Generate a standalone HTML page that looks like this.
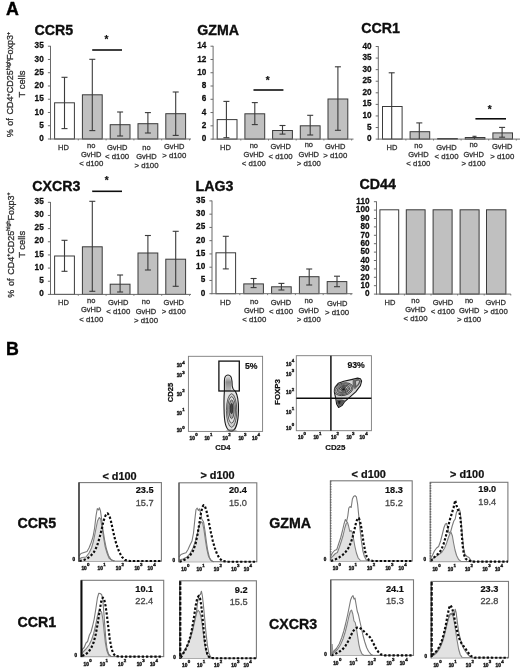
<!DOCTYPE html>
<html lang="en"><head><meta charset="utf-8"><title>Figure</title>
<style>html,body{margin:0;padding:0;background:#fff}svg{display:block}text{font-family:"Liberation Sans", sans-serif}</style></head><body>
<svg width="520" height="671" viewBox="0 0 520 671">
<rect x="0" y="0" width="520" height="671" fill="#ffffff"/>
<filter id="soft" x="0" y="0" width="520" height="671" filterUnits="userSpaceOnUse"><feGaussianBlur stdDeviation="0.38"/></filter>
<g filter="url(#soft)">
<text x="6.00" y="15.00" font-size="17.8" font-weight="bold" fill="#000" text-anchor="start" stroke="#000" stroke-width="0.39">A</text>
<text x="6.00" y="354.70" font-size="17.8" font-weight="bold" fill="#000" text-anchor="start" stroke="#000" stroke-width="0.39">B</text>
<text x="34.50" y="34.60" font-size="14.2" font-weight="bold" fill="#0a0a0a" text-anchor="start" stroke="#0a0a0a" stroke-width="0.31">CCR5</text>
<rect x="54.60" y="102.80" width="19.80" height="36.20" fill="#ffffff" stroke="#3a3a3a" stroke-width="1"/>
<rect x="82.40" y="94.80" width="19.80" height="44.20" fill="#c0c0c0" stroke="#3a3a3a" stroke-width="1"/>
<rect x="110.20" y="124.70" width="19.80" height="14.30" fill="#c0c0c0" stroke="#3a3a3a" stroke-width="1"/>
<rect x="138.00" y="123.70" width="19.80" height="15.30" fill="#c0c0c0" stroke="#3a3a3a" stroke-width="1"/>
<rect x="165.80" y="113.70" width="19.80" height="25.30" fill="#c0c0c0" stroke="#3a3a3a" stroke-width="1"/>
<line x1="50.50" y1="45.90" x2="50.50" y2="139.50" stroke="#6a6a6a" stroke-width="1"/>
<line x1="50.00" y1="139.00" x2="191.00" y2="139.00" stroke="#6a6a6a" stroke-width="1"/>
<line x1="47.90" y1="139.00" x2="50.50" y2="139.00" stroke="#6a6a6a" stroke-width="1"/>
<text transform="translate(43.70,141.10) scale(1,1.19)" font-size="8.2" font-weight="bold" fill="#0a0a0a" stroke="#0a0a0a" stroke-width=".22" text-anchor="end">0</text>
<line x1="47.90" y1="125.74" x2="50.50" y2="125.74" stroke="#6a6a6a" stroke-width="1"/>
<text transform="translate(43.70,127.84) scale(1,1.19)" font-size="8.2" font-weight="bold" fill="#0a0a0a" stroke="#0a0a0a" stroke-width=".22" text-anchor="end">5</text>
<line x1="47.90" y1="112.49" x2="50.50" y2="112.49" stroke="#6a6a6a" stroke-width="1"/>
<text transform="translate(43.70,114.59) scale(1,1.19)" font-size="8.2" font-weight="bold" fill="#0a0a0a" stroke="#0a0a0a" stroke-width=".22" text-anchor="end">10</text>
<line x1="47.90" y1="99.23" x2="50.50" y2="99.23" stroke="#6a6a6a" stroke-width="1"/>
<text transform="translate(43.70,101.33) scale(1,1.19)" font-size="8.2" font-weight="bold" fill="#0a0a0a" stroke="#0a0a0a" stroke-width=".22" text-anchor="end">15</text>
<line x1="47.90" y1="85.97" x2="50.50" y2="85.97" stroke="#6a6a6a" stroke-width="1"/>
<text transform="translate(43.70,88.07) scale(1,1.19)" font-size="8.2" font-weight="bold" fill="#0a0a0a" stroke="#0a0a0a" stroke-width=".22" text-anchor="end">20</text>
<line x1="47.90" y1="72.71" x2="50.50" y2="72.71" stroke="#6a6a6a" stroke-width="1"/>
<text transform="translate(43.70,74.81) scale(1,1.19)" font-size="8.2" font-weight="bold" fill="#0a0a0a" stroke="#0a0a0a" stroke-width=".22" text-anchor="end">25</text>
<line x1="47.90" y1="59.46" x2="50.50" y2="59.46" stroke="#6a6a6a" stroke-width="1"/>
<text transform="translate(43.70,61.56) scale(1,1.19)" font-size="8.2" font-weight="bold" fill="#0a0a0a" stroke="#0a0a0a" stroke-width=".22" text-anchor="end">30</text>
<line x1="47.90" y1="46.20" x2="50.50" y2="46.20" stroke="#6a6a6a" stroke-width="1"/>
<text transform="translate(43.70,48.30) scale(1,1.19)" font-size="8.2" font-weight="bold" fill="#0a0a0a" stroke="#0a0a0a" stroke-width=".22" text-anchor="end">35</text>
<line x1="78.30" y1="139.00" x2="78.30" y2="140.40" stroke="#6a6a6a" stroke-width="0.9"/>
<line x1="106.10" y1="139.00" x2="106.10" y2="140.40" stroke="#6a6a6a" stroke-width="0.9"/>
<line x1="133.90" y1="139.00" x2="133.90" y2="140.40" stroke="#6a6a6a" stroke-width="0.9"/>
<line x1="161.70" y1="139.00" x2="161.70" y2="140.40" stroke="#6a6a6a" stroke-width="0.9"/>
<line x1="189.50" y1="139.00" x2="189.50" y2="140.40" stroke="#6a6a6a" stroke-width="0.9"/>
<line x1="64.50" y1="77.30" x2="64.50" y2="128.60" stroke="#3a3a3a" stroke-width="1.1"/>
<line x1="61.50" y1="77.30" x2="67.50" y2="77.30" stroke="#3a3a3a" stroke-width="1.1"/>
<line x1="61.50" y1="128.60" x2="67.50" y2="128.60" stroke="#3a3a3a" stroke-width="1.1"/>
<line x1="92.30" y1="59.30" x2="92.30" y2="130.60" stroke="#3a3a3a" stroke-width="1.1"/>
<line x1="89.30" y1="59.30" x2="95.30" y2="59.30" stroke="#3a3a3a" stroke-width="1.1"/>
<line x1="89.30" y1="130.60" x2="95.30" y2="130.60" stroke="#3a3a3a" stroke-width="1.1"/>
<line x1="120.10" y1="112.00" x2="120.10" y2="136.00" stroke="#3a3a3a" stroke-width="1.1"/>
<line x1="117.10" y1="112.00" x2="123.10" y2="112.00" stroke="#3a3a3a" stroke-width="1.1"/>
<line x1="117.10" y1="136.00" x2="123.10" y2="136.00" stroke="#3a3a3a" stroke-width="1.1"/>
<line x1="147.90" y1="112.60" x2="147.90" y2="133.00" stroke="#3a3a3a" stroke-width="1.1"/>
<line x1="144.90" y1="112.60" x2="150.90" y2="112.60" stroke="#3a3a3a" stroke-width="1.1"/>
<line x1="144.90" y1="133.00" x2="150.90" y2="133.00" stroke="#3a3a3a" stroke-width="1.1"/>
<line x1="175.70" y1="92.00" x2="175.70" y2="135.40" stroke="#3a3a3a" stroke-width="1.1"/>
<line x1="172.70" y1="92.00" x2="178.70" y2="92.00" stroke="#3a3a3a" stroke-width="1.1"/>
<line x1="172.70" y1="135.40" x2="178.70" y2="135.40" stroke="#3a3a3a" stroke-width="1.1"/>
<text x="63.50" y="150.00" font-size="7.5" fill="#2e2e2e" text-anchor="middle" stroke="#2e2e2e" stroke-width="0.26">HD</text>
<text x="91.20" y="147.70" font-size="7.5" fill="#2e2e2e" text-anchor="middle" stroke="#2e2e2e" stroke-width="0.26">no</text>
<text x="91.20" y="157.00" font-size="7.5" fill="#2e2e2e" text-anchor="middle" stroke="#2e2e2e" stroke-width="0.26">GvHD</text>
<text x="91.20" y="166.30" font-size="7.8" fill="#2e2e2e" text-anchor="middle" stroke="#2e2e2e" stroke-width="0.27">&lt; d100</text>
<text x="117.10" y="150.00" font-size="7.5" fill="#2e2e2e" text-anchor="middle" stroke="#2e2e2e" stroke-width="0.26">GvHD</text>
<text x="117.10" y="159.30" font-size="7.8" fill="#2e2e2e" text-anchor="middle" stroke="#2e2e2e" stroke-width="0.27">&lt; d100</text>
<text x="146.50" y="149.80" font-size="7.5" fill="#2e2e2e" text-anchor="middle" stroke="#2e2e2e" stroke-width="0.26">no</text>
<text x="146.50" y="159.10" font-size="7.5" fill="#2e2e2e" text-anchor="middle" stroke="#2e2e2e" stroke-width="0.26">GvHD</text>
<text x="146.50" y="168.40" font-size="7.8" fill="#2e2e2e" text-anchor="middle" stroke="#2e2e2e" stroke-width="0.27">&gt; d100</text>
<text x="174.20" y="148.80" font-size="7.5" fill="#2e2e2e" text-anchor="middle" stroke="#2e2e2e" stroke-width="0.26">GvHD</text>
<text x="174.20" y="158.10" font-size="7.8" fill="#2e2e2e" text-anchor="middle" stroke="#2e2e2e" stroke-width="0.27">&gt; d100</text>
<line x1="92.20" y1="50.00" x2="122.00" y2="50.00" stroke="#111" stroke-width="1.6"/>
<text x="106.40" y="43.40" font-size="10" font-weight="bold" fill="#111" text-anchor="middle" stroke="#111" stroke-width="0.22">*</text>
<text transform="translate(13.40,84.60) rotate(-90)" font-size="9" word-spacing="1.2" fill="#2e2e2e" stroke="#2e2e2e" stroke-width=".3" text-anchor="middle">% of CD4<tspan font-size="5.4" dy="-3.4">+</tspan><tspan dy="3.4">CD25</tspan><tspan font-size="5.4" dy="-3.4">high</tspan><tspan dy="3.4">Foxp3</tspan><tspan font-size="5.4" dy="-3.4">+</tspan></text>
<text transform="translate(24.90,84.00) rotate(-90)" font-size="9.4" fill="#2e2e2e" stroke="#2e2e2e" stroke-width=".3" text-anchor="middle">T cells</text>
<text x="197.20" y="34.60" font-size="14.2" font-weight="bold" fill="#0a0a0a" text-anchor="start" stroke="#0a0a0a" stroke-width="0.31">GZMA</text>
<rect x="217.20" y="119.60" width="19.80" height="19.50" fill="#ffffff" stroke="#3a3a3a" stroke-width="1"/>
<rect x="244.90" y="113.80" width="19.80" height="25.30" fill="#c0c0c0" stroke="#3a3a3a" stroke-width="1"/>
<rect x="272.60" y="130.50" width="19.80" height="8.60" fill="#c0c0c0" stroke="#3a3a3a" stroke-width="1"/>
<rect x="300.30" y="125.80" width="19.80" height="13.30" fill="#c0c0c0" stroke="#3a3a3a" stroke-width="1"/>
<rect x="328.00" y="99.00" width="19.80" height="40.10" fill="#c0c0c0" stroke="#3a3a3a" stroke-width="1"/>
<line x1="213.10" y1="45.90" x2="213.10" y2="139.60" stroke="#6a6a6a" stroke-width="1"/>
<line x1="212.60" y1="139.10" x2="353.50" y2="139.10" stroke="#6a6a6a" stroke-width="1"/>
<line x1="210.50" y1="139.10" x2="213.10" y2="139.10" stroke="#6a6a6a" stroke-width="1"/>
<text transform="translate(206.30,141.20) scale(1,1.19)" font-size="8.2" font-weight="bold" fill="#0a0a0a" stroke="#0a0a0a" stroke-width=".22" text-anchor="end">0</text>
<line x1="210.50" y1="125.83" x2="213.10" y2="125.83" stroke="#6a6a6a" stroke-width="1"/>
<text transform="translate(206.30,127.93) scale(1,1.19)" font-size="8.2" font-weight="bold" fill="#0a0a0a" stroke="#0a0a0a" stroke-width=".22" text-anchor="end">2</text>
<line x1="210.50" y1="112.56" x2="213.10" y2="112.56" stroke="#6a6a6a" stroke-width="1"/>
<text transform="translate(206.30,114.66) scale(1,1.19)" font-size="8.2" font-weight="bold" fill="#0a0a0a" stroke="#0a0a0a" stroke-width=".22" text-anchor="end">4</text>
<line x1="210.50" y1="99.29" x2="213.10" y2="99.29" stroke="#6a6a6a" stroke-width="1"/>
<text transform="translate(206.30,101.39) scale(1,1.19)" font-size="8.2" font-weight="bold" fill="#0a0a0a" stroke="#0a0a0a" stroke-width=".22" text-anchor="end">6</text>
<line x1="210.50" y1="86.01" x2="213.10" y2="86.01" stroke="#6a6a6a" stroke-width="1"/>
<text transform="translate(206.30,88.11) scale(1,1.19)" font-size="8.2" font-weight="bold" fill="#0a0a0a" stroke="#0a0a0a" stroke-width=".22" text-anchor="end">8</text>
<line x1="210.50" y1="72.74" x2="213.10" y2="72.74" stroke="#6a6a6a" stroke-width="1"/>
<text transform="translate(206.30,74.84) scale(1,1.19)" font-size="8.2" font-weight="bold" fill="#0a0a0a" stroke="#0a0a0a" stroke-width=".22" text-anchor="end">10</text>
<line x1="210.50" y1="59.47" x2="213.10" y2="59.47" stroke="#6a6a6a" stroke-width="1"/>
<text transform="translate(206.30,61.57) scale(1,1.19)" font-size="8.2" font-weight="bold" fill="#0a0a0a" stroke="#0a0a0a" stroke-width=".22" text-anchor="end">12</text>
<line x1="210.50" y1="46.20" x2="213.10" y2="46.20" stroke="#6a6a6a" stroke-width="1"/>
<text transform="translate(206.30,48.30) scale(1,1.19)" font-size="8.2" font-weight="bold" fill="#0a0a0a" stroke="#0a0a0a" stroke-width=".22" text-anchor="end">14</text>
<line x1="240.80" y1="139.10" x2="240.80" y2="140.50" stroke="#6a6a6a" stroke-width="0.9"/>
<line x1="268.50" y1="139.10" x2="268.50" y2="140.50" stroke="#6a6a6a" stroke-width="0.9"/>
<line x1="296.20" y1="139.10" x2="296.20" y2="140.50" stroke="#6a6a6a" stroke-width="0.9"/>
<line x1="323.90" y1="139.10" x2="323.90" y2="140.50" stroke="#6a6a6a" stroke-width="0.9"/>
<line x1="351.60" y1="139.10" x2="351.60" y2="140.50" stroke="#6a6a6a" stroke-width="0.9"/>
<line x1="226.40" y1="101.40" x2="226.40" y2="137.70" stroke="#3a3a3a" stroke-width="1.1"/>
<line x1="223.40" y1="101.40" x2="229.40" y2="101.40" stroke="#3a3a3a" stroke-width="1.1"/>
<line x1="223.40" y1="137.70" x2="229.40" y2="137.70" stroke="#3a3a3a" stroke-width="1.1"/>
<line x1="254.80" y1="102.60" x2="254.80" y2="124.60" stroke="#3a3a3a" stroke-width="1.1"/>
<line x1="251.80" y1="102.60" x2="257.80" y2="102.60" stroke="#3a3a3a" stroke-width="1.1"/>
<line x1="251.80" y1="124.60" x2="257.80" y2="124.60" stroke="#3a3a3a" stroke-width="1.1"/>
<line x1="282.50" y1="125.50" x2="282.50" y2="134.10" stroke="#3a3a3a" stroke-width="1.1"/>
<line x1="279.50" y1="125.50" x2="285.50" y2="125.50" stroke="#3a3a3a" stroke-width="1.1"/>
<line x1="279.50" y1="134.10" x2="285.50" y2="134.10" stroke="#3a3a3a" stroke-width="1.1"/>
<line x1="310.20" y1="115.30" x2="310.20" y2="135.00" stroke="#3a3a3a" stroke-width="1.1"/>
<line x1="307.20" y1="115.30" x2="313.20" y2="115.30" stroke="#3a3a3a" stroke-width="1.1"/>
<line x1="307.20" y1="135.00" x2="313.20" y2="135.00" stroke="#3a3a3a" stroke-width="1.1"/>
<line x1="337.90" y1="66.80" x2="337.90" y2="130.30" stroke="#3a3a3a" stroke-width="1.1"/>
<line x1="334.90" y1="66.80" x2="340.90" y2="66.80" stroke="#3a3a3a" stroke-width="1.1"/>
<line x1="334.90" y1="130.30" x2="340.90" y2="130.30" stroke="#3a3a3a" stroke-width="1.1"/>
<text x="225.40" y="150.00" font-size="7.5" fill="#2e2e2e" text-anchor="middle" stroke="#2e2e2e" stroke-width="0.26">HD</text>
<text x="253.80" y="147.70" font-size="7.5" fill="#2e2e2e" text-anchor="middle" stroke="#2e2e2e" stroke-width="0.26">no</text>
<text x="253.80" y="157.00" font-size="7.5" fill="#2e2e2e" text-anchor="middle" stroke="#2e2e2e" stroke-width="0.26">GvHD</text>
<text x="253.80" y="166.30" font-size="7.8" fill="#2e2e2e" text-anchor="middle" stroke="#2e2e2e" stroke-width="0.27">&lt; d100</text>
<text x="280.60" y="149.20" font-size="7.5" fill="#2e2e2e" text-anchor="middle" stroke="#2e2e2e" stroke-width="0.26">GvHD</text>
<text x="280.60" y="158.50" font-size="7.8" fill="#2e2e2e" text-anchor="middle" stroke="#2e2e2e" stroke-width="0.27">&lt; d100</text>
<text x="308.80" y="147.30" font-size="7.5" fill="#2e2e2e" text-anchor="middle" stroke="#2e2e2e" stroke-width="0.26">no</text>
<text x="308.80" y="156.60" font-size="7.5" fill="#2e2e2e" text-anchor="middle" stroke="#2e2e2e" stroke-width="0.26">GvHD</text>
<text x="308.80" y="165.90" font-size="7.8" fill="#2e2e2e" text-anchor="middle" stroke="#2e2e2e" stroke-width="0.27">&gt; d100</text>
<text x="335.20" y="148.80" font-size="7.5" fill="#2e2e2e" text-anchor="middle" stroke="#2e2e2e" stroke-width="0.26">GvHD</text>
<text x="335.20" y="158.10" font-size="7.8" fill="#2e2e2e" text-anchor="middle" stroke="#2e2e2e" stroke-width="0.27">&gt; d100</text>
<line x1="253.50" y1="90.00" x2="283.40" y2="90.00" stroke="#111" stroke-width="1.6"/>
<text x="267.80" y="84.00" font-size="10" font-weight="bold" fill="#111" text-anchor="middle" stroke="#111" stroke-width="0.22">*</text>
<text x="361.30" y="32.60" font-size="14.2" font-weight="bold" fill="#0a0a0a" text-anchor="start" stroke="#0a0a0a" stroke-width="0.31">CCR1</text>
<rect x="382.50" y="106.50" width="19.60" height="32.60" fill="#ffffff" stroke="#3a3a3a" stroke-width="1"/>
<rect x="410.10" y="131.70" width="19.60" height="7.40" fill="#c0c0c0" stroke="#3a3a3a" stroke-width="1"/>
<rect x="437.70" y="138.50" width="19.60" height="0.60" fill="#c0c0c0" stroke="#3a3a3a" stroke-width="1"/>
<rect x="465.30" y="137.50" width="19.60" height="1.60" fill="#c0c0c0" stroke="#3a3a3a" stroke-width="1"/>
<rect x="492.90" y="132.90" width="19.60" height="6.20" fill="#c0c0c0" stroke="#3a3a3a" stroke-width="1"/>
<line x1="378.30" y1="46.20" x2="378.30" y2="139.60" stroke="#6a6a6a" stroke-width="1"/>
<line x1="377.80" y1="139.10" x2="520.00" y2="139.10" stroke="#6a6a6a" stroke-width="1"/>
<line x1="375.70" y1="139.10" x2="378.30" y2="139.10" stroke="#6a6a6a" stroke-width="1"/>
<text transform="translate(371.50,141.20) scale(1,1.19)" font-size="8.2" font-weight="bold" fill="#0a0a0a" stroke="#0a0a0a" stroke-width=".22" text-anchor="end">0</text>
<line x1="375.70" y1="127.52" x2="378.30" y2="127.52" stroke="#6a6a6a" stroke-width="1"/>
<text transform="translate(371.50,129.62) scale(1,1.19)" font-size="8.2" font-weight="bold" fill="#0a0a0a" stroke="#0a0a0a" stroke-width=".22" text-anchor="end">5</text>
<line x1="375.70" y1="115.95" x2="378.30" y2="115.95" stroke="#6a6a6a" stroke-width="1"/>
<text transform="translate(371.50,118.05) scale(1,1.19)" font-size="8.2" font-weight="bold" fill="#0a0a0a" stroke="#0a0a0a" stroke-width=".22" text-anchor="end">10</text>
<line x1="375.70" y1="104.38" x2="378.30" y2="104.38" stroke="#6a6a6a" stroke-width="1"/>
<text transform="translate(371.50,106.47) scale(1,1.19)" font-size="8.2" font-weight="bold" fill="#0a0a0a" stroke="#0a0a0a" stroke-width=".22" text-anchor="end">15</text>
<line x1="375.70" y1="92.80" x2="378.30" y2="92.80" stroke="#6a6a6a" stroke-width="1"/>
<text transform="translate(371.50,94.90) scale(1,1.19)" font-size="8.2" font-weight="bold" fill="#0a0a0a" stroke="#0a0a0a" stroke-width=".22" text-anchor="end">20</text>
<line x1="375.70" y1="81.22" x2="378.30" y2="81.22" stroke="#6a6a6a" stroke-width="1"/>
<text transform="translate(371.50,83.32) scale(1,1.19)" font-size="8.2" font-weight="bold" fill="#0a0a0a" stroke="#0a0a0a" stroke-width=".22" text-anchor="end">25</text>
<line x1="375.70" y1="69.65" x2="378.30" y2="69.65" stroke="#6a6a6a" stroke-width="1"/>
<text transform="translate(371.50,71.75) scale(1,1.19)" font-size="8.2" font-weight="bold" fill="#0a0a0a" stroke="#0a0a0a" stroke-width=".22" text-anchor="end">30</text>
<line x1="375.70" y1="58.08" x2="378.30" y2="58.08" stroke="#6a6a6a" stroke-width="1"/>
<text transform="translate(371.50,60.18) scale(1,1.19)" font-size="8.2" font-weight="bold" fill="#0a0a0a" stroke="#0a0a0a" stroke-width=".22" text-anchor="end">35</text>
<line x1="375.70" y1="46.50" x2="378.30" y2="46.50" stroke="#6a6a6a" stroke-width="1"/>
<text transform="translate(371.50,48.60) scale(1,1.19)" font-size="8.2" font-weight="bold" fill="#0a0a0a" stroke="#0a0a0a" stroke-width=".22" text-anchor="end">40</text>
<line x1="405.90" y1="139.10" x2="405.90" y2="140.50" stroke="#6a6a6a" stroke-width="0.9"/>
<line x1="433.50" y1="139.10" x2="433.50" y2="140.50" stroke="#6a6a6a" stroke-width="0.9"/>
<line x1="461.10" y1="139.10" x2="461.10" y2="140.50" stroke="#6a6a6a" stroke-width="0.9"/>
<line x1="488.70" y1="139.10" x2="488.70" y2="140.50" stroke="#6a6a6a" stroke-width="0.9"/>
<line x1="516.30" y1="139.10" x2="516.30" y2="140.50" stroke="#6a6a6a" stroke-width="0.9"/>
<line x1="391.70" y1="72.80" x2="391.70" y2="139.10" stroke="#3a3a3a" stroke-width="1.1"/>
<line x1="388.70" y1="72.80" x2="394.70" y2="72.80" stroke="#3a3a3a" stroke-width="1.1"/>
<line x1="419.30" y1="122.90" x2="419.30" y2="139.10" stroke="#3a3a3a" stroke-width="1.1"/>
<line x1="416.30" y1="122.90" x2="422.30" y2="122.90" stroke="#3a3a3a" stroke-width="1.1"/>
<line x1="474.50" y1="136.30" x2="474.50" y2="139.10" stroke="#3a3a3a" stroke-width="1.1"/>
<line x1="472.50" y1="136.30" x2="476.50" y2="136.30" stroke="#3a3a3a" stroke-width="1.1"/>
<line x1="502.10" y1="127.40" x2="502.10" y2="137.20" stroke="#3a3a3a" stroke-width="1.1"/>
<line x1="499.10" y1="127.40" x2="505.10" y2="127.40" stroke="#3a3a3a" stroke-width="1.1"/>
<line x1="499.10" y1="137.20" x2="505.10" y2="137.20" stroke="#3a3a3a" stroke-width="1.1"/>
<text x="392.00" y="150.00" font-size="7.5" fill="#2e2e2e" text-anchor="middle" stroke="#2e2e2e" stroke-width="0.26">HD</text>
<text x="418.40" y="147.70" font-size="7.5" fill="#2e2e2e" text-anchor="middle" stroke="#2e2e2e" stroke-width="0.26">no</text>
<text x="418.40" y="157.00" font-size="7.5" fill="#2e2e2e" text-anchor="middle" stroke="#2e2e2e" stroke-width="0.26">GvHD</text>
<text x="418.40" y="166.30" font-size="7.8" fill="#2e2e2e" text-anchor="middle" stroke="#2e2e2e" stroke-width="0.27">&lt; d100</text>
<text x="446.50" y="149.70" font-size="7.5" fill="#2e2e2e" text-anchor="middle" stroke="#2e2e2e" stroke-width="0.26">GvHD</text>
<text x="446.50" y="159.00" font-size="7.8" fill="#2e2e2e" text-anchor="middle" stroke="#2e2e2e" stroke-width="0.27">&lt; d100</text>
<text x="473.60" y="147.30" font-size="7.5" fill="#2e2e2e" text-anchor="middle" stroke="#2e2e2e" stroke-width="0.26">no</text>
<text x="473.60" y="156.60" font-size="7.5" fill="#2e2e2e" text-anchor="middle" stroke="#2e2e2e" stroke-width="0.26">GvHD</text>
<text x="473.60" y="165.90" font-size="7.8" fill="#2e2e2e" text-anchor="middle" stroke="#2e2e2e" stroke-width="0.27">&gt; d100</text>
<text x="502.20" y="149.30" font-size="7.5" fill="#2e2e2e" text-anchor="middle" stroke="#2e2e2e" stroke-width="0.26">GvHD</text>
<text x="502.20" y="158.60" font-size="7.8" fill="#2e2e2e" text-anchor="middle" stroke="#2e2e2e" stroke-width="0.27">&gt; d100</text>
<line x1="475.40" y1="118.80" x2="506.00" y2="118.80" stroke="#111" stroke-width="1.6"/>
<text x="489.70" y="112.60" font-size="10" font-weight="bold" fill="#111" text-anchor="middle" stroke="#111" stroke-width="0.22">*</text>
<text x="32.30" y="190.80" font-size="14.2" font-weight="bold" fill="#0a0a0a" text-anchor="start" stroke="#0a0a0a" stroke-width="0.31">CXCR3</text>
<rect x="54.60" y="256.00" width="19.80" height="38.40" fill="#ffffff" stroke="#3a3a3a" stroke-width="1"/>
<rect x="82.40" y="246.80" width="19.80" height="47.60" fill="#c0c0c0" stroke="#3a3a3a" stroke-width="1"/>
<rect x="110.20" y="284.20" width="19.80" height="10.20" fill="#c0c0c0" stroke="#3a3a3a" stroke-width="1"/>
<rect x="138.00" y="253.00" width="19.80" height="41.40" fill="#c0c0c0" stroke="#3a3a3a" stroke-width="1"/>
<rect x="165.80" y="259.20" width="19.80" height="35.20" fill="#c0c0c0" stroke="#3a3a3a" stroke-width="1"/>
<line x1="50.50" y1="202.00" x2="50.50" y2="294.90" stroke="#6a6a6a" stroke-width="1"/>
<line x1="50.00" y1="294.40" x2="191.00" y2="294.40" stroke="#6a6a6a" stroke-width="1"/>
<line x1="47.90" y1="294.40" x2="50.50" y2="294.40" stroke="#6a6a6a" stroke-width="1"/>
<text transform="translate(43.70,296.00) scale(1,1.19)" font-size="8.2" font-weight="bold" fill="#0a0a0a" stroke="#0a0a0a" stroke-width=".22" text-anchor="end">0</text>
<line x1="47.90" y1="281.24" x2="50.50" y2="281.24" stroke="#6a6a6a" stroke-width="1"/>
<text transform="translate(43.70,282.84) scale(1,1.19)" font-size="8.2" font-weight="bold" fill="#0a0a0a" stroke="#0a0a0a" stroke-width=".22" text-anchor="end">5</text>
<line x1="47.90" y1="268.09" x2="50.50" y2="268.09" stroke="#6a6a6a" stroke-width="1"/>
<text transform="translate(43.70,269.69) scale(1,1.19)" font-size="8.2" font-weight="bold" fill="#0a0a0a" stroke="#0a0a0a" stroke-width=".22" text-anchor="end">10</text>
<line x1="47.90" y1="254.93" x2="50.50" y2="254.93" stroke="#6a6a6a" stroke-width="1"/>
<text transform="translate(43.70,256.53) scale(1,1.19)" font-size="8.2" font-weight="bold" fill="#0a0a0a" stroke="#0a0a0a" stroke-width=".22" text-anchor="end">15</text>
<line x1="47.90" y1="241.77" x2="50.50" y2="241.77" stroke="#6a6a6a" stroke-width="1"/>
<text transform="translate(43.70,243.37) scale(1,1.19)" font-size="8.2" font-weight="bold" fill="#0a0a0a" stroke="#0a0a0a" stroke-width=".22" text-anchor="end">20</text>
<line x1="47.90" y1="228.61" x2="50.50" y2="228.61" stroke="#6a6a6a" stroke-width="1"/>
<text transform="translate(43.70,230.21) scale(1,1.19)" font-size="8.2" font-weight="bold" fill="#0a0a0a" stroke="#0a0a0a" stroke-width=".22" text-anchor="end">25</text>
<line x1="47.90" y1="215.46" x2="50.50" y2="215.46" stroke="#6a6a6a" stroke-width="1"/>
<text transform="translate(43.70,217.06) scale(1,1.19)" font-size="8.2" font-weight="bold" fill="#0a0a0a" stroke="#0a0a0a" stroke-width=".22" text-anchor="end">30</text>
<line x1="47.90" y1="202.30" x2="50.50" y2="202.30" stroke="#6a6a6a" stroke-width="1"/>
<text transform="translate(43.70,203.90) scale(1,1.19)" font-size="8.2" font-weight="bold" fill="#0a0a0a" stroke="#0a0a0a" stroke-width=".22" text-anchor="end">35</text>
<line x1="78.30" y1="294.40" x2="78.30" y2="295.80" stroke="#6a6a6a" stroke-width="0.9"/>
<line x1="106.10" y1="294.40" x2="106.10" y2="295.80" stroke="#6a6a6a" stroke-width="0.9"/>
<line x1="133.90" y1="294.40" x2="133.90" y2="295.80" stroke="#6a6a6a" stroke-width="0.9"/>
<line x1="161.70" y1="294.40" x2="161.70" y2="295.80" stroke="#6a6a6a" stroke-width="0.9"/>
<line x1="189.50" y1="294.40" x2="189.50" y2="295.80" stroke="#6a6a6a" stroke-width="0.9"/>
<line x1="64.50" y1="240.30" x2="64.50" y2="271.30" stroke="#3a3a3a" stroke-width="1.1"/>
<line x1="61.50" y1="240.30" x2="67.50" y2="240.30" stroke="#3a3a3a" stroke-width="1.1"/>
<line x1="61.50" y1="271.30" x2="67.50" y2="271.30" stroke="#3a3a3a" stroke-width="1.1"/>
<line x1="92.30" y1="201.30" x2="92.30" y2="291.30" stroke="#3a3a3a" stroke-width="1.1"/>
<line x1="89.30" y1="201.30" x2="95.30" y2="201.30" stroke="#3a3a3a" stroke-width="1.1"/>
<line x1="89.30" y1="291.30" x2="95.30" y2="291.30" stroke="#3a3a3a" stroke-width="1.1"/>
<line x1="120.10" y1="275.00" x2="120.10" y2="292.00" stroke="#3a3a3a" stroke-width="1.1"/>
<line x1="117.10" y1="275.00" x2="123.10" y2="275.00" stroke="#3a3a3a" stroke-width="1.1"/>
<line x1="117.10" y1="292.00" x2="123.10" y2="292.00" stroke="#3a3a3a" stroke-width="1.1"/>
<line x1="147.90" y1="235.50" x2="147.90" y2="270.00" stroke="#3a3a3a" stroke-width="1.1"/>
<line x1="144.90" y1="235.50" x2="150.90" y2="235.50" stroke="#3a3a3a" stroke-width="1.1"/>
<line x1="144.90" y1="270.00" x2="150.90" y2="270.00" stroke="#3a3a3a" stroke-width="1.1"/>
<line x1="175.70" y1="231.30" x2="175.70" y2="286.30" stroke="#3a3a3a" stroke-width="1.1"/>
<line x1="172.70" y1="231.30" x2="178.70" y2="231.30" stroke="#3a3a3a" stroke-width="1.1"/>
<line x1="172.70" y1="286.30" x2="178.70" y2="286.30" stroke="#3a3a3a" stroke-width="1.1"/>
<text x="63.50" y="305.30" font-size="7.5" fill="#2e2e2e" text-anchor="middle" stroke="#2e2e2e" stroke-width="0.26">HD</text>
<text x="91.20" y="303.00" font-size="7.5" fill="#2e2e2e" text-anchor="middle" stroke="#2e2e2e" stroke-width="0.26">no</text>
<text x="91.20" y="312.30" font-size="7.5" fill="#2e2e2e" text-anchor="middle" stroke="#2e2e2e" stroke-width="0.26">GvHD</text>
<text x="91.20" y="321.60" font-size="7.8" fill="#2e2e2e" text-anchor="middle" stroke="#2e2e2e" stroke-width="0.27">&lt; d100</text>
<text x="118.20" y="304.50" font-size="7.5" fill="#2e2e2e" text-anchor="middle" stroke="#2e2e2e" stroke-width="0.26">GvHD</text>
<text x="118.20" y="313.80" font-size="7.8" fill="#2e2e2e" text-anchor="middle" stroke="#2e2e2e" stroke-width="0.27">&lt; d100</text>
<text x="146.00" y="304.30" font-size="7.5" fill="#2e2e2e" text-anchor="middle" stroke="#2e2e2e" stroke-width="0.26">no</text>
<text x="146.00" y="313.60" font-size="7.5" fill="#2e2e2e" text-anchor="middle" stroke="#2e2e2e" stroke-width="0.26">GvHD</text>
<text x="146.00" y="322.90" font-size="7.8" fill="#2e2e2e" text-anchor="middle" stroke="#2e2e2e" stroke-width="0.27">&gt; d100</text>
<text x="173.80" y="304.90" font-size="7.5" fill="#2e2e2e" text-anchor="middle" stroke="#2e2e2e" stroke-width="0.26">GvHD</text>
<text x="173.80" y="314.20" font-size="7.8" fill="#2e2e2e" text-anchor="middle" stroke="#2e2e2e" stroke-width="0.27">&gt; d100</text>
<line x1="92.20" y1="191.30" x2="122.00" y2="191.30" stroke="#111" stroke-width="1.6"/>
<text x="106.70" y="184.40" font-size="10" font-weight="bold" fill="#111" text-anchor="middle" stroke="#111" stroke-width="0.22">*</text>
<text transform="translate(13.80,245.00) rotate(-90)" font-size="9" word-spacing="1.2" fill="#2e2e2e" stroke="#2e2e2e" stroke-width=".3" text-anchor="middle">% of CD4<tspan font-size="5.4" dy="-3.4">+</tspan><tspan dy="3.4">CD25</tspan><tspan font-size="5.4" dy="-3.4">high</tspan><tspan dy="3.4">Foxp3</tspan><tspan font-size="5.4" dy="-3.4">+</tspan></text>
<text transform="translate(24.90,244.40) rotate(-90)" font-size="9.4" fill="#2e2e2e" stroke="#2e2e2e" stroke-width=".3" text-anchor="middle">T cells</text>
<text x="195.60" y="190.80" font-size="14.2" font-weight="bold" fill="#0a0a0a" text-anchor="start" stroke="#0a0a0a" stroke-width="0.31">LAG3</text>
<rect x="216.00" y="252.80" width="19.60" height="40.90" fill="#ffffff" stroke="#3a3a3a" stroke-width="1"/>
<rect x="243.80" y="283.90" width="19.60" height="9.80" fill="#c0c0c0" stroke="#3a3a3a" stroke-width="1"/>
<rect x="271.60" y="286.80" width="19.60" height="6.90" fill="#c0c0c0" stroke="#3a3a3a" stroke-width="1"/>
<rect x="299.40" y="276.70" width="19.60" height="17.00" fill="#c0c0c0" stroke="#3a3a3a" stroke-width="1"/>
<rect x="327.20" y="281.60" width="19.60" height="12.10" fill="#c0c0c0" stroke="#3a3a3a" stroke-width="1"/>
<line x1="212.00" y1="200.60" x2="212.00" y2="294.20" stroke="#6a6a6a" stroke-width="1"/>
<line x1="211.50" y1="293.70" x2="352.50" y2="293.70" stroke="#6a6a6a" stroke-width="1"/>
<line x1="209.40" y1="293.70" x2="212.00" y2="293.70" stroke="#6a6a6a" stroke-width="1"/>
<text transform="translate(205.20,295.70) scale(1,1.19)" font-size="8.2" font-weight="bold" fill="#0a0a0a" stroke="#0a0a0a" stroke-width=".22" text-anchor="end">0</text>
<line x1="209.40" y1="280.44" x2="212.00" y2="280.44" stroke="#6a6a6a" stroke-width="1"/>
<text transform="translate(205.20,282.44) scale(1,1.19)" font-size="8.2" font-weight="bold" fill="#0a0a0a" stroke="#0a0a0a" stroke-width=".22" text-anchor="end">5</text>
<line x1="209.40" y1="267.19" x2="212.00" y2="267.19" stroke="#6a6a6a" stroke-width="1"/>
<text transform="translate(205.20,269.19) scale(1,1.19)" font-size="8.2" font-weight="bold" fill="#0a0a0a" stroke="#0a0a0a" stroke-width=".22" text-anchor="end">10</text>
<line x1="209.40" y1="253.93" x2="212.00" y2="253.93" stroke="#6a6a6a" stroke-width="1"/>
<text transform="translate(205.20,255.93) scale(1,1.19)" font-size="8.2" font-weight="bold" fill="#0a0a0a" stroke="#0a0a0a" stroke-width=".22" text-anchor="end">15</text>
<line x1="209.40" y1="240.67" x2="212.00" y2="240.67" stroke="#6a6a6a" stroke-width="1"/>
<text transform="translate(205.20,242.67) scale(1,1.19)" font-size="8.2" font-weight="bold" fill="#0a0a0a" stroke="#0a0a0a" stroke-width=".22" text-anchor="end">20</text>
<line x1="209.40" y1="227.41" x2="212.00" y2="227.41" stroke="#6a6a6a" stroke-width="1"/>
<text transform="translate(205.20,229.41) scale(1,1.19)" font-size="8.2" font-weight="bold" fill="#0a0a0a" stroke="#0a0a0a" stroke-width=".22" text-anchor="end">25</text>
<line x1="209.40" y1="214.16" x2="212.00" y2="214.16" stroke="#6a6a6a" stroke-width="1"/>
<text transform="translate(205.20,216.16) scale(1,1.19)" font-size="8.2" font-weight="bold" fill="#0a0a0a" stroke="#0a0a0a" stroke-width=".22" text-anchor="end">30</text>
<line x1="209.40" y1="200.90" x2="212.00" y2="200.90" stroke="#6a6a6a" stroke-width="1"/>
<text transform="translate(205.20,202.90) scale(1,1.19)" font-size="8.2" font-weight="bold" fill="#0a0a0a" stroke="#0a0a0a" stroke-width=".22" text-anchor="end">35</text>
<line x1="239.80" y1="293.70" x2="239.80" y2="295.10" stroke="#6a6a6a" stroke-width="0.9"/>
<line x1="267.60" y1="293.70" x2="267.60" y2="295.10" stroke="#6a6a6a" stroke-width="0.9"/>
<line x1="295.40" y1="293.70" x2="295.40" y2="295.10" stroke="#6a6a6a" stroke-width="0.9"/>
<line x1="323.20" y1="293.70" x2="323.20" y2="295.10" stroke="#6a6a6a" stroke-width="0.9"/>
<line x1="351.00" y1="293.70" x2="351.00" y2="295.10" stroke="#6a6a6a" stroke-width="0.9"/>
<line x1="225.80" y1="236.30" x2="225.80" y2="268.90" stroke="#3a3a3a" stroke-width="1.1"/>
<line x1="222.80" y1="236.30" x2="228.80" y2="236.30" stroke="#3a3a3a" stroke-width="1.1"/>
<line x1="222.80" y1="268.90" x2="228.80" y2="268.90" stroke="#3a3a3a" stroke-width="1.1"/>
<line x1="253.60" y1="278.50" x2="253.60" y2="287.60" stroke="#3a3a3a" stroke-width="1.1"/>
<line x1="250.60" y1="278.50" x2="256.60" y2="278.50" stroke="#3a3a3a" stroke-width="1.1"/>
<line x1="250.60" y1="287.60" x2="256.60" y2="287.60" stroke="#3a3a3a" stroke-width="1.1"/>
<line x1="281.40" y1="283.40" x2="281.40" y2="290.00" stroke="#3a3a3a" stroke-width="1.1"/>
<line x1="278.40" y1="283.40" x2="284.40" y2="283.40" stroke="#3a3a3a" stroke-width="1.1"/>
<line x1="278.40" y1="290.00" x2="284.40" y2="290.00" stroke="#3a3a3a" stroke-width="1.1"/>
<line x1="309.20" y1="269.00" x2="309.20" y2="285.00" stroke="#3a3a3a" stroke-width="1.1"/>
<line x1="306.20" y1="269.00" x2="312.20" y2="269.00" stroke="#3a3a3a" stroke-width="1.1"/>
<line x1="306.20" y1="285.00" x2="312.20" y2="285.00" stroke="#3a3a3a" stroke-width="1.1"/>
<line x1="337.00" y1="276.20" x2="337.00" y2="286.70" stroke="#3a3a3a" stroke-width="1.1"/>
<line x1="334.00" y1="276.20" x2="340.00" y2="276.20" stroke="#3a3a3a" stroke-width="1.1"/>
<line x1="334.00" y1="286.70" x2="340.00" y2="286.70" stroke="#3a3a3a" stroke-width="1.1"/>
<text x="225.40" y="304.50" font-size="7.5" fill="#2e2e2e" text-anchor="middle" stroke="#2e2e2e" stroke-width="0.26">HD</text>
<text x="254.20" y="303.80" font-size="7.5" fill="#2e2e2e" text-anchor="middle" stroke="#2e2e2e" stroke-width="0.26">no</text>
<text x="254.20" y="313.10" font-size="7.5" fill="#2e2e2e" text-anchor="middle" stroke="#2e2e2e" stroke-width="0.26">GvHD</text>
<text x="254.20" y="322.40" font-size="7.8" fill="#2e2e2e" text-anchor="middle" stroke="#2e2e2e" stroke-width="0.27">&lt; d100</text>
<text x="281.00" y="304.50" font-size="7.5" fill="#2e2e2e" text-anchor="middle" stroke="#2e2e2e" stroke-width="0.26">GvHD</text>
<text x="281.00" y="313.80" font-size="7.8" fill="#2e2e2e" text-anchor="middle" stroke="#2e2e2e" stroke-width="0.27">&lt; d100</text>
<text x="308.70" y="303.30" font-size="7.5" fill="#2e2e2e" text-anchor="middle" stroke="#2e2e2e" stroke-width="0.26">no</text>
<text x="308.70" y="312.60" font-size="7.5" fill="#2e2e2e" text-anchor="middle" stroke="#2e2e2e" stroke-width="0.26">GvHD</text>
<text x="308.70" y="321.90" font-size="7.8" fill="#2e2e2e" text-anchor="middle" stroke="#2e2e2e" stroke-width="0.27">&gt; d100</text>
<text x="337.10" y="305.50" font-size="7.5" fill="#2e2e2e" text-anchor="middle" stroke="#2e2e2e" stroke-width="0.26">GvHD</text>
<text x="337.10" y="314.80" font-size="7.8" fill="#2e2e2e" text-anchor="middle" stroke="#2e2e2e" stroke-width="0.27">&gt; d100</text>
<text x="359.60" y="188.80" font-size="14.2" font-weight="bold" fill="#0a0a0a" text-anchor="start" stroke="#0a0a0a" stroke-width="0.31">CD44</text>
<rect x="379.90" y="209.80" width="18.80" height="84.30" fill="#ffffff" stroke="#3a3a3a" stroke-width="1"/>
<rect x="406.30" y="209.80" width="18.80" height="84.30" fill="#c0c0c0" stroke="#3a3a3a" stroke-width="1"/>
<rect x="433.10" y="209.80" width="19.00" height="84.30" fill="#c0c0c0" stroke="#3a3a3a" stroke-width="1"/>
<rect x="460.10" y="209.80" width="19.00" height="84.30" fill="#c0c0c0" stroke="#3a3a3a" stroke-width="1"/>
<rect x="486.50" y="209.80" width="19.40" height="84.30" fill="#c0c0c0" stroke="#3a3a3a" stroke-width="1"/>
<line x1="376.50" y1="201.40" x2="376.50" y2="294.60" stroke="#6a6a6a" stroke-width="1"/>
<line x1="376.00" y1="294.10" x2="510.80" y2="294.10" stroke="#6a6a6a" stroke-width="1"/>
<line x1="373.90" y1="294.10" x2="376.50" y2="294.10" stroke="#6a6a6a" stroke-width="1"/>
<text transform="translate(369.50,296.40) scale(1,1.19)" font-size="8.2" font-weight="bold" fill="#0a0a0a" stroke="#0a0a0a" stroke-width=".22" text-anchor="end">0</text>
<line x1="373.90" y1="285.70" x2="376.50" y2="285.70" stroke="#6a6a6a" stroke-width="1"/>
<text transform="translate(369.50,288.00) scale(1,1.19)" font-size="8.2" font-weight="bold" fill="#0a0a0a" stroke="#0a0a0a" stroke-width=".22" text-anchor="end">10</text>
<line x1="373.90" y1="277.30" x2="376.50" y2="277.30" stroke="#6a6a6a" stroke-width="1"/>
<text transform="translate(369.50,279.60) scale(1,1.19)" font-size="8.2" font-weight="bold" fill="#0a0a0a" stroke="#0a0a0a" stroke-width=".22" text-anchor="end">20</text>
<line x1="373.90" y1="268.90" x2="376.50" y2="268.90" stroke="#6a6a6a" stroke-width="1"/>
<text transform="translate(369.50,271.20) scale(1,1.19)" font-size="8.2" font-weight="bold" fill="#0a0a0a" stroke="#0a0a0a" stroke-width=".22" text-anchor="end">30</text>
<line x1="373.90" y1="260.50" x2="376.50" y2="260.50" stroke="#6a6a6a" stroke-width="1"/>
<text transform="translate(369.50,262.80) scale(1,1.19)" font-size="8.2" font-weight="bold" fill="#0a0a0a" stroke="#0a0a0a" stroke-width=".22" text-anchor="end">40</text>
<line x1="373.90" y1="252.10" x2="376.50" y2="252.10" stroke="#6a6a6a" stroke-width="1"/>
<text transform="translate(369.50,254.40) scale(1,1.19)" font-size="8.2" font-weight="bold" fill="#0a0a0a" stroke="#0a0a0a" stroke-width=".22" text-anchor="end">50</text>
<line x1="373.90" y1="243.70" x2="376.50" y2="243.70" stroke="#6a6a6a" stroke-width="1"/>
<text transform="translate(369.50,246.00) scale(1,1.19)" font-size="8.2" font-weight="bold" fill="#0a0a0a" stroke="#0a0a0a" stroke-width=".22" text-anchor="end">60</text>
<line x1="373.90" y1="235.30" x2="376.50" y2="235.30" stroke="#6a6a6a" stroke-width="1"/>
<text transform="translate(369.50,237.60) scale(1,1.19)" font-size="8.2" font-weight="bold" fill="#0a0a0a" stroke="#0a0a0a" stroke-width=".22" text-anchor="end">70</text>
<line x1="373.90" y1="226.90" x2="376.50" y2="226.90" stroke="#6a6a6a" stroke-width="1"/>
<text transform="translate(369.50,229.20) scale(1,1.19)" font-size="8.2" font-weight="bold" fill="#0a0a0a" stroke="#0a0a0a" stroke-width=".22" text-anchor="end">80</text>
<line x1="373.90" y1="218.50" x2="376.50" y2="218.50" stroke="#6a6a6a" stroke-width="1"/>
<text transform="translate(369.50,220.80) scale(1,1.19)" font-size="8.2" font-weight="bold" fill="#0a0a0a" stroke="#0a0a0a" stroke-width=".22" text-anchor="end">90</text>
<line x1="373.90" y1="210.10" x2="376.50" y2="210.10" stroke="#6a6a6a" stroke-width="1"/>
<text transform="translate(369.50,212.40) scale(1,1.19)" font-size="8.2" font-weight="bold" fill="#0a0a0a" stroke="#0a0a0a" stroke-width=".22" text-anchor="end">100</text>
<line x1="373.90" y1="201.70" x2="376.50" y2="201.70" stroke="#6a6a6a" stroke-width="1"/>
<text transform="translate(369.50,204.00) scale(1,1.19)" font-size="8.2" font-weight="bold" fill="#0a0a0a" stroke="#0a0a0a" stroke-width=".22" text-anchor="end">110</text>
<line x1="404.40" y1="294.10" x2="404.40" y2="295.50" stroke="#6a6a6a" stroke-width="0.9"/>
<line x1="431.00" y1="294.10" x2="431.00" y2="295.50" stroke="#6a6a6a" stroke-width="0.9"/>
<line x1="457.60" y1="294.10" x2="457.60" y2="295.50" stroke="#6a6a6a" stroke-width="0.9"/>
<line x1="484.20" y1="294.10" x2="484.20" y2="295.50" stroke="#6a6a6a" stroke-width="0.9"/>
<line x1="510.80" y1="294.10" x2="510.80" y2="295.50" stroke="#6a6a6a" stroke-width="0.9"/>
<text x="390.00" y="305.30" font-size="7.5" fill="#2e2e2e" text-anchor="middle" stroke="#2e2e2e" stroke-width="0.26">HD</text>
<text x="415.50" y="302.80" font-size="7.5" fill="#2e2e2e" text-anchor="middle" stroke="#2e2e2e" stroke-width="0.26">no</text>
<text x="415.50" y="312.10" font-size="7.5" fill="#2e2e2e" text-anchor="middle" stroke="#2e2e2e" stroke-width="0.26">GvHD</text>
<text x="415.50" y="321.40" font-size="7.8" fill="#2e2e2e" text-anchor="middle" stroke="#2e2e2e" stroke-width="0.27">&lt; d100</text>
<text x="442.90" y="305.00" font-size="7.5" fill="#2e2e2e" text-anchor="middle" stroke="#2e2e2e" stroke-width="0.26">GvHD</text>
<text x="442.90" y="314.30" font-size="7.8" fill="#2e2e2e" text-anchor="middle" stroke="#2e2e2e" stroke-width="0.27">&lt; d100</text>
<text x="469.10" y="303.40" font-size="7.5" fill="#2e2e2e" text-anchor="middle" stroke="#2e2e2e" stroke-width="0.26">no</text>
<text x="469.10" y="312.70" font-size="7.5" fill="#2e2e2e" text-anchor="middle" stroke="#2e2e2e" stroke-width="0.26">GvHD</text>
<text x="469.10" y="322.00" font-size="7.8" fill="#2e2e2e" text-anchor="middle" stroke="#2e2e2e" stroke-width="0.27">&gt; d100</text>
<text x="495.70" y="304.60" font-size="7.5" fill="#2e2e2e" text-anchor="middle" stroke="#2e2e2e" stroke-width="0.26">GvHD</text>
<text x="495.70" y="313.90" font-size="7.8" fill="#2e2e2e" text-anchor="middle" stroke="#2e2e2e" stroke-width="0.27">&gt; d100</text>
<defs><radialGradient id="g1" cx="50%" cy="50%" r="50%"><stop offset="0" stop-color="#111"/><stop offset=".35" stop-color="#555"/><stop offset=".7" stop-color="#999"/><stop offset="1" stop-color="#d8d8d8"/></radialGradient><linearGradient id="g2" x1="0" y1="0" x2="0" y2="1"><stop offset="0" stop-color="#ddd"/><stop offset=".4" stop-color="#8c8c8c"/><stop offset="1" stop-color="#bbb"/></linearGradient></defs>
<rect x="188.40" y="356.30" width="74.20" height="75.10" fill="#fff" stroke="#7a7a7a" stroke-width="0.9"/>
<g stroke-linejoin="round">
<path d="M231.3 431 C226.5 431 224.6 424 224.2 414 C223.8 404 224.0 396 224.4 391 L224.4 381 C224.4 376.5 226.4 375.0 228.0 375.0 C230.0 375.0 231.8 377.2 232.0 381.5 L232.2 386 C232.4 388.6 233.6 390.2 235.4 391.4 C237.6 395 238.6 402 238.5 410 C238.3 420 236.4 431 231.3 431 Z" fill="#e4e4e4" stroke="#1a1a1a" stroke-width="1.1"/>
<path d="M225.4 391 L225.4 381.5 C225.6 377.5 227 376.2 228.1 376.2 C229.6 376.2 230.8 378 231 381.6 L231.2 391 Z" fill="url(#g2)" stroke="none"/>
<ellipse cx="231.6" cy="410.5" rx="5.2" ry="16.8" fill="#cdcdcd" stroke="#1e1e1e" stroke-width=".65"/>
<ellipse cx="231.6" cy="409.9" rx="3.9" ry="13.2" fill="#e2e2e2" stroke="#1e1e1e" stroke-width=".65"/>
<ellipse cx="231.6" cy="409.3" rx="2.6" ry="9.4" fill="#a4a4a4" stroke="#1e1e1e" stroke-width=".65"/>
<ellipse cx="231.6" cy="408.6" rx="1.3" ry="5.2" fill="#444" stroke="#1e1e1e" stroke-width=".65"/>
</g>
<path d="M225.5 431 Q231.5 426.5 237.5 431 Z" fill="#777" opacity=".55"/>
<rect x="218.90" y="361.10" width="20.40" height="29.90" fill="none" stroke="#111" stroke-width="1.3"/>
<text x="245.00" y="368.90" font-size="8.7" font-weight="bold" fill="#111" text-anchor="start" stroke="#111" stroke-width="0.19">5%</text>
<text x="176.70" y="432.20" font-size="4.8" font-weight="bold" fill="#111" text-anchor="start" stroke="#222" stroke-width=".4">10</text>
<text x="182.30" y="428.60" font-size="4.4" font-weight="bold" fill="#111" text-anchor="start" stroke="#222" stroke-width=".4">0</text>
<text x="176.70" y="415.00" font-size="4.8" font-weight="bold" fill="#111" text-anchor="start" stroke="#222" stroke-width=".4">10</text>
<text x="182.30" y="411.40" font-size="4.4" font-weight="bold" fill="#111" text-anchor="start" stroke="#222" stroke-width=".4">1</text>
<text x="176.70" y="395.80" font-size="4.8" font-weight="bold" fill="#111" text-anchor="start" stroke="#222" stroke-width=".4">10</text>
<text x="182.30" y="392.20" font-size="4.4" font-weight="bold" fill="#111" text-anchor="start" stroke="#222" stroke-width=".4">2</text>
<text x="176.70" y="377.40" font-size="4.8" font-weight="bold" fill="#111" text-anchor="start" stroke="#222" stroke-width=".4">10</text>
<text x="182.30" y="373.80" font-size="4.4" font-weight="bold" fill="#111" text-anchor="start" stroke="#222" stroke-width=".4">3</text>
<text x="176.70" y="367.20" font-size="4.8" font-weight="bold" fill="#111" text-anchor="start" stroke="#222" stroke-width=".4">10</text>
<text x="182.30" y="363.60" font-size="4.4" font-weight="bold" fill="#111" text-anchor="start" stroke="#222" stroke-width=".4">4</text>
<text x="189.60" y="440.00" font-size="4.8" font-weight="bold" fill="#111" text-anchor="start" stroke="#222" stroke-width=".4">10</text>
<text x="195.20" y="436.40" font-size="4.4" font-weight="bold" fill="#111" text-anchor="start" stroke="#222" stroke-width=".4">0</text>
<text x="204.40" y="440.00" font-size="4.8" font-weight="bold" fill="#111" text-anchor="start" stroke="#222" stroke-width=".4">10</text>
<text x="210.00" y="436.40" font-size="4.4" font-weight="bold" fill="#111" text-anchor="start" stroke="#222" stroke-width=".4">1</text>
<text x="222.60" y="440.00" font-size="4.8" font-weight="bold" fill="#111" text-anchor="start" stroke="#222" stroke-width=".4">10</text>
<text x="228.20" y="436.40" font-size="4.4" font-weight="bold" fill="#111" text-anchor="start" stroke="#222" stroke-width=".4">2</text>
<text x="238.40" y="440.00" font-size="4.8" font-weight="bold" fill="#111" text-anchor="start" stroke="#222" stroke-width=".4">10</text>
<text x="244.00" y="436.40" font-size="4.4" font-weight="bold" fill="#111" text-anchor="start" stroke="#222" stroke-width=".4">3</text>
<text x="252.00" y="440.00" font-size="4.8" font-weight="bold" fill="#111" text-anchor="start" stroke="#222" stroke-width=".4">10</text>
<text x="257.60" y="436.40" font-size="4.4" font-weight="bold" fill="#111" text-anchor="start" stroke="#222" stroke-width=".4">4</text>
<text x="222.80" y="449.80" font-size="7.6" font-weight="bold" fill="#111" text-anchor="middle" stroke="#111" stroke-width="0.17">CD4</text>
<text transform="translate(172.8,392.5) rotate(-90)" font-size="7.6" font-weight="bold" fill="#111" stroke="#111" stroke-width=".25" text-anchor="middle">CD25</text>
<rect x="296.30" y="355.70" width="75.10" height="75.00" fill="#fff" stroke="#7a7a7a" stroke-width="0.9"/>
<polygon points="357.6,378.1 360.4,378.8 361.6,381.1 360.4,385.6 355.7,391.8 349.5,397.4 344.4,401.9 341.9,405.6 338.6,407.4 336.6,404.0 335.8,398.6 334.4,392.4 335.1,387.1 338.2,383.3 343.8,381.3 351.3,379.6" fill="#d6d6d6" stroke="#1a1a1a" stroke-width="1.1" stroke-linejoin="round"/>
<polygon points="352.6,380.3 357.6,378.8 360.4,379.8 360.9,381.6 359.1,384.8 354.8,389.6 352.6,385.6" fill="#6a6a6a" stroke="none"/>
<polygon points="355.4,381.1 358.2,380.1 359.6,381.1 358.4,384.1 355.9,386.6" fill="#c8c8c8" stroke="#333" stroke-width=".6"/>
<polygon points="336.6,399.6 341.9,399.6 345.1,400.6 341.8,405.1 338.8,406.6 337.1,403.6" fill="#555" stroke="none"/>
<polygon points="338.1,401.1 340.6,400.9 340.1,403.6 338.6,404.1" fill="#1c1c1c" stroke="none"/>
<ellipse cx="343.6" cy="389.2" rx="9.6" ry="6.2" fill="#bdbdbd" stroke="#262626" stroke-width=".75" transform="rotate(-14 343.6 389.2)"/>
<ellipse cx="343.6" cy="389.2" rx="8.0" ry="5.0" fill="#e6e6e6" stroke="#262626" stroke-width=".75" transform="rotate(-14 343.6 389.2)"/>
<ellipse cx="343.6" cy="389.2" rx="6.4" ry="3.9" fill="#a8a8a8" stroke="#262626" stroke-width=".75" transform="rotate(-14 343.6 389.2)"/>
<ellipse cx="343.6" cy="389.2" rx="4.8" ry="2.9" fill="#e0e0e0" stroke="#262626" stroke-width=".75" transform="rotate(-14 343.6 389.2)"/>
<ellipse cx="343.6" cy="389.2" rx="3.1" ry="1.9" fill="#8a8a8a" stroke="#262626" stroke-width=".75" transform="rotate(-14 343.6 389.2)"/>
<ellipse cx="343.6" cy="389.2" rx="1.5" ry="0.8" fill="#111" stroke="#262626" stroke-width=".75" transform="rotate(-14 343.6 389.2)"/>
<line x1="330.90" y1="355.70" x2="330.90" y2="430.70" stroke="#111" stroke-width="1.5"/>
<line x1="296.30" y1="398.30" x2="371.40" y2="398.30" stroke="#111" stroke-width="1.5"/>
<text x="347.40" y="368.20" font-size="8.7" font-weight="bold" fill="#111" text-anchor="start" stroke="#111" stroke-width="0.19">93%</text>
<text x="286.10" y="429.60" font-size="4.8" font-weight="bold" fill="#111" text-anchor="start" stroke="#222" stroke-width=".4">10</text>
<text x="291.70" y="426.00" font-size="4.4" font-weight="bold" fill="#111" text-anchor="start" stroke="#222" stroke-width=".4">0</text>
<text x="286.10" y="413.80" font-size="4.8" font-weight="bold" fill="#111" text-anchor="start" stroke="#222" stroke-width=".4">10</text>
<text x="291.70" y="410.20" font-size="4.4" font-weight="bold" fill="#111" text-anchor="start" stroke="#222" stroke-width=".4">1</text>
<text x="286.10" y="394.40" font-size="4.8" font-weight="bold" fill="#111" text-anchor="start" stroke="#222" stroke-width=".4">10</text>
<text x="291.70" y="390.80" font-size="4.4" font-weight="bold" fill="#111" text-anchor="start" stroke="#222" stroke-width=".4">2</text>
<text x="286.10" y="376.00" font-size="4.8" font-weight="bold" fill="#111" text-anchor="start" stroke="#222" stroke-width=".4">10</text>
<text x="291.70" y="372.40" font-size="4.4" font-weight="bold" fill="#111" text-anchor="start" stroke="#222" stroke-width=".4">3</text>
<text x="286.10" y="365.60" font-size="4.8" font-weight="bold" fill="#111" text-anchor="start" stroke="#222" stroke-width=".4">10</text>
<text x="291.70" y="362.00" font-size="4.4" font-weight="bold" fill="#111" text-anchor="start" stroke="#222" stroke-width=".4">4</text>
<text x="298.00" y="438.90" font-size="4.8" font-weight="bold" fill="#111" text-anchor="start" stroke="#222" stroke-width=".4">10</text>
<text x="303.60" y="435.30" font-size="4.4" font-weight="bold" fill="#111" text-anchor="start" stroke="#222" stroke-width=".4">0</text>
<text x="313.40" y="438.90" font-size="4.8" font-weight="bold" fill="#111" text-anchor="start" stroke="#222" stroke-width=".4">10</text>
<text x="319.00" y="435.30" font-size="4.4" font-weight="bold" fill="#111" text-anchor="start" stroke="#222" stroke-width=".4">1</text>
<text x="331.00" y="438.90" font-size="4.8" font-weight="bold" fill="#111" text-anchor="start" stroke="#222" stroke-width=".4">10</text>
<text x="336.60" y="435.30" font-size="4.4" font-weight="bold" fill="#111" text-anchor="start" stroke="#222" stroke-width=".4">2</text>
<text x="346.40" y="438.90" font-size="4.8" font-weight="bold" fill="#111" text-anchor="start" stroke="#222" stroke-width=".4">10</text>
<text x="352.00" y="435.30" font-size="4.4" font-weight="bold" fill="#111" text-anchor="start" stroke="#222" stroke-width=".4">3</text>
<text x="359.60" y="438.90" font-size="4.8" font-weight="bold" fill="#111" text-anchor="start" stroke="#222" stroke-width=".4">10</text>
<text x="365.20" y="435.30" font-size="4.4" font-weight="bold" fill="#111" text-anchor="start" stroke="#222" stroke-width=".4">4</text>
<text x="335.30" y="450.20" font-size="7.9" font-weight="bold" fill="#111" text-anchor="middle" stroke="#111" stroke-width="0.17">CD25</text>
<text transform="translate(280.4,392) rotate(-90)" font-size="7.9" font-weight="bold" fill="#111" stroke="#111" stroke-width=".25" text-anchor="middle">FOXP3</text>
<text x="102.40" y="480.20" font-size="10.9" font-weight="bold" fill="#111" text-anchor="start" stroke="#111" stroke-width="0.24">&lt; d100</text>
<text x="200.40" y="478.70" font-size="10.9" font-weight="bold" fill="#111" text-anchor="start" stroke="#111" stroke-width="0.24">&gt; d100</text>
<text x="351.60" y="477.90" font-size="10.9" font-weight="bold" fill="#111" text-anchor="start" stroke="#111" stroke-width="0.24">&lt; d100</text>
<text x="450.00" y="478.20" font-size="10.9" font-weight="bold" fill="#111" text-anchor="start" stroke="#111" stroke-width="0.24">&gt; d100</text>
<text x="17.60" y="528.40" font-size="14.2" font-weight="bold" fill="#0a0a0a" text-anchor="start" stroke="#0a0a0a" stroke-width="0.31">CCR5</text>
<text x="17.60" y="627.10" font-size="14.2" font-weight="bold" fill="#0a0a0a" text-anchor="start" stroke="#0a0a0a" stroke-width="0.31">CCR1</text>
<text x="269.20" y="527.80" font-size="14.2" font-weight="bold" fill="#0a0a0a" text-anchor="start" stroke="#0a0a0a" stroke-width="0.31">GZMA</text>
<text x="269.00" y="628.70" font-size="14.2" font-weight="bold" fill="#0a0a0a" text-anchor="start" stroke="#0a0a0a" stroke-width="0.31">CXCR3</text>
<rect x="79.00" y="482.60" width="82.40" height="78.60" fill="#fff" stroke="#7a7a7a" stroke-width="1.1"/>
<path d="M79.0 559.0 L82.0 557.5 L86.0 557.0 L89.0 553.0 L91.5 548.0 L93.5 541.0 L95.5 531.0 L97.5 521.0 L99.2 517.5 L100.6 519.0 L102.0 527.0 L103.5 537.0 L105.0 546.0 L107.0 553.0 L109.0 558.0 L112.0 560.5 L115.0 561.0 L115.0 561.2 L79.0 561.2 Z" fill="#e2e2e2" stroke="none"/>
<path d="M79.0 559.0 L82.0 557.5 L86.0 557.0 L89.0 553.0 L91.5 548.0 L93.5 541.0 L95.5 531.0 L97.5 521.0 L99.2 517.5 L100.6 519.0 L102.0 527.0 L103.5 537.0 L105.0 546.0 L107.0 553.0 L109.0 558.0 L112.0 560.5 L115.0 561.0" fill="none" stroke="#808080" stroke-width="1.1" stroke-linejoin="round"/>
<path d="M79.0 556.0 L81.0 553.5 L84.0 552.5 L87.0 551.5 L89.0 548.0 L91.0 543.0 L93.0 537.0 L94.6 528.0 L96.0 516.0 L97.3 508.5 L98.4 510.0 L99.4 507.8 L100.5 511.0 L101.6 519.0 L103.0 530.0 L104.6 540.0 L106.4 549.0 L108.5 555.5 L111.0 559.5 L114.0 561.0" fill="none" stroke="#7a7a7a" stroke-width="1.1" stroke-linejoin="round"/>
<path d="M79.5 561.0 L84.0 560.0 L88.0 558.0 L91.0 555.5 L94.0 552.0 L97.0 546.0 L99.5 538.0 L101.5 530.0 L103.5 521.0 L105.5 515.5 L107.6 513.3 L109.2 515.5 L110.6 519.5 L112.0 526.0 L113.5 533.0 L115.3 540.5 L117.3 547.0 L119.5 552.5 L122.0 557.0 L125.0 560.0 L130.0 561.0 L161.0 561.0" fill="none" stroke="#0a0a0a" stroke-width="2.15" stroke-dasharray="2.3 1.9" stroke-linejoin="round"/>
<line x1="79.00" y1="482.60" x2="79.00" y2="561.70" stroke="#2a2a2a" stroke-width="1.3"/>
<text x="72.40" y="561.00" font-size="4.6" font-weight="bold" fill="#111" text-anchor="start" stroke="#222" stroke-width=".4">0</text>
<text x="81.40" y="570.30" font-size="4.8" font-weight="bold" fill="#111" text-anchor="start" stroke="#222" stroke-width=".4">10</text>
<text x="87.10" y="566.40" font-size="4.4" font-weight="bold" fill="#111" text-anchor="start" stroke="#222" stroke-width=".4">0</text>
<text x="97.60" y="570.30" font-size="4.8" font-weight="bold" fill="#111" text-anchor="start" stroke="#222" stroke-width=".4">10</text>
<text x="103.30" y="566.40" font-size="4.4" font-weight="bold" fill="#111" text-anchor="start" stroke="#222" stroke-width=".4">1</text>
<text x="115.80" y="570.30" font-size="4.8" font-weight="bold" fill="#111" text-anchor="start" stroke="#222" stroke-width=".4">10</text>
<text x="121.50" y="566.40" font-size="4.4" font-weight="bold" fill="#111" text-anchor="start" stroke="#222" stroke-width=".4">2</text>
<text x="134.40" y="570.30" font-size="4.8" font-weight="bold" fill="#111" text-anchor="start" stroke="#222" stroke-width=".4">10</text>
<text x="140.10" y="566.40" font-size="4.4" font-weight="bold" fill="#111" text-anchor="start" stroke="#222" stroke-width=".4">3</text>
<text x="147.60" y="570.30" font-size="4.8" font-weight="bold" fill="#111" text-anchor="start" stroke="#222" stroke-width=".4">10</text>
<text x="153.30" y="566.40" font-size="4.4" font-weight="bold" fill="#111" text-anchor="start" stroke="#222" stroke-width=".4">4</text>
<text transform="translate(153.60,492.80) scale(1,1.06)" font-size="9.2" font-weight="bold" fill="#111" stroke="#111" stroke-width=".2" text-anchor="end">23.5</text>
<text x="153.60" y="505.50" font-size="9.2" fill="#4a4a4a" text-anchor="end" stroke="#4a4a4a" stroke-width="0.32">15.7</text>
<rect x="179.00" y="482.80" width="77.80" height="78.90" fill="#fff" stroke="#7a7a7a" stroke-width="1.1"/>
<path d="M179.0 560.0 L183.0 559.0 L187.0 557.0 L190.0 553.5 L193.0 548.0 L195.5 541.0 L197.5 533.0 L199.3 525.5 L201.0 521.8 L202.6 523.0 L204.0 530.0 L205.4 540.0 L206.8 549.0 L208.4 556.0 L210.5 560.0 L213.0 561.5 L213.0 561.7 L179.0 561.7 Z" fill="#e2e2e2" stroke="none"/>
<path d="M179.0 560.0 L183.0 559.0 L187.0 557.0 L190.0 553.5 L193.0 548.0 L195.5 541.0 L197.5 533.0 L199.3 525.5 L201.0 521.8 L202.6 523.0 L204.0 530.0 L205.4 540.0 L206.8 549.0 L208.4 556.0 L210.5 560.0 L213.0 561.5" fill="none" stroke="#808080" stroke-width="1.1" stroke-linejoin="round"/>
<path d="M179.0 557.0 L181.0 554.5 L183.5 553.5 L186.0 552.8 L188.0 549.5 L190.0 545.0 L192.0 541.0 L193.5 533.0 L194.8 520.0 L196.0 509.5 L197.2 508.2 L198.4 510.5 L199.4 508.8 L200.6 513.0 L201.8 519.0 L203.6 522.0 L205.0 531.0 L206.4 542.0 L207.8 551.0 L209.4 557.5 L211.5 561.0 L214.0 561.7" fill="none" stroke="#7a7a7a" stroke-width="1.1" stroke-linejoin="round"/>
<path d="M179.5 561.7 L183.0 560.6 L187.0 558.5 L190.0 555.5 L193.0 551.0 L195.5 544.0 L197.6 534.0 L199.4 523.0 L201.0 513.0 L202.4 507.0 L203.6 505.2 L205.0 506.5 L206.4 510.5 L207.8 517.0 L209.4 525.0 L211.0 533.0 L212.8 541.0 L214.8 548.0 L217.0 554.0 L219.5 558.5 L222.5 561.0 L228.0 561.7 L257.0 561.7" fill="none" stroke="#0a0a0a" stroke-width="2.15" stroke-dasharray="2.3 1.9" stroke-linejoin="round"/>
<line x1="179.00" y1="482.80" x2="179.00" y2="562.20" stroke="#444" stroke-width="1.0"/>
<text x="172.40" y="561.50" font-size="4.6" font-weight="bold" fill="#111" text-anchor="start" stroke="#222" stroke-width=".4">0</text>
<text x="181.27" y="570.80" font-size="4.8" font-weight="bold" fill="#111" text-anchor="start" stroke="#222" stroke-width=".4">10</text>
<text x="186.97" y="566.90" font-size="4.4" font-weight="bold" fill="#111" text-anchor="start" stroke="#222" stroke-width=".4">0</text>
<text x="196.56" y="570.80" font-size="4.8" font-weight="bold" fill="#111" text-anchor="start" stroke="#222" stroke-width=".4">10</text>
<text x="202.26" y="566.90" font-size="4.4" font-weight="bold" fill="#111" text-anchor="start" stroke="#222" stroke-width=".4">1</text>
<text x="213.75" y="570.80" font-size="4.8" font-weight="bold" fill="#111" text-anchor="start" stroke="#222" stroke-width=".4">10</text>
<text x="219.45" y="566.90" font-size="4.4" font-weight="bold" fill="#111" text-anchor="start" stroke="#222" stroke-width=".4">2</text>
<text x="231.31" y="570.80" font-size="4.8" font-weight="bold" fill="#111" text-anchor="start" stroke="#222" stroke-width=".4">10</text>
<text x="237.01" y="566.90" font-size="4.4" font-weight="bold" fill="#111" text-anchor="start" stroke="#222" stroke-width=".4">3</text>
<text x="243.77" y="570.80" font-size="4.8" font-weight="bold" fill="#111" text-anchor="start" stroke="#222" stroke-width=".4">10</text>
<text x="249.47" y="566.90" font-size="4.4" font-weight="bold" fill="#111" text-anchor="start" stroke="#222" stroke-width=".4">4</text>
<text transform="translate(246.80,492.80) scale(1,1.06)" font-size="9.2" font-weight="bold" fill="#111" stroke="#111" stroke-width=".2" text-anchor="end">20.4</text>
<text x="246.80" y="505.50" font-size="9.2" fill="#4a4a4a" text-anchor="end" stroke="#4a4a4a" stroke-width="0.32">15.0</text>
<rect x="81.20" y="580.30" width="82.50" height="76.30" fill="#fff" stroke="#7a7a7a" stroke-width="1.1"/>
<path d="M81.2 655.0 L83.0 652.0 L86.0 649.0 L89.0 645.0 L91.5 640.0 L93.5 634.0 L95.5 626.0 L97.2 617.0 L98.6 611.5 L100.0 610.5 L101.6 612.0 L103.0 620.0 L104.2 632.0 L105.4 643.0 L106.8 650.5 L108.6 655.0 L111.0 656.6 L111.0 656.6 L81.2 656.6 Z" fill="#e2e2e2" stroke="none"/>
<path d="M81.2 655.0 L83.0 652.0 L86.0 649.0 L89.0 645.0 L91.5 640.0 L93.5 634.0 L95.5 626.0 L97.2 617.0 L98.6 611.5 L100.0 610.5 L101.6 612.0 L103.0 620.0 L104.2 632.0 L105.4 643.0 L106.8 650.5 L108.6 655.0 L111.0 656.6" fill="none" stroke="#808080" stroke-width="1.1" stroke-linejoin="round"/>
<path d="M81.2 653.0 L82.6 649.0 L84.2 647.5 L86.0 643.0 L87.6 641.5 L89.4 635.0 L91.0 632.0 L92.6 626.0 L94.2 619.0 L95.8 609.0 L97.4 598.0 L98.8 593.2 L100.2 593.6 L101.6 594.4 L102.8 600.0 L103.8 612.0 L104.8 626.0 L105.8 639.0 L107.0 648.5 L108.6 654.0 L111.0 656.4" fill="none" stroke="#7a7a7a" stroke-width="1.1" stroke-linejoin="round"/>
<path d="M82.2 656.0 L85.0 654.8 L88.0 652.5 L91.0 648.5 L93.6 642.5 L95.8 634.0 L97.8 623.0 L99.6 611.0 L101.2 601.5 L102.8 597.6 L104.2 599.5 L105.6 606.0 L107.0 616.0 L108.4 628.0 L109.8 639.0 L111.4 648.0 L113.2 653.5 L115.5 656.0 L120.0 656.6 L162.5 656.6" fill="none" stroke="#0a0a0a" stroke-width="2.15" stroke-dasharray="2.3 1.9" stroke-linejoin="round"/>
<line x1="81.50" y1="580.30" x2="81.50" y2="657.10" stroke="#111" stroke-width="2.0"/>
<text x="74.60" y="657.20" font-size="4.6" font-weight="bold" fill="#111" text-anchor="start" stroke="#222" stroke-width=".4">0</text>
<text x="83.60" y="665.70" font-size="4.8" font-weight="bold" fill="#111" text-anchor="start" stroke="#222" stroke-width=".4">10</text>
<text x="89.30" y="661.80" font-size="4.4" font-weight="bold" fill="#111" text-anchor="start" stroke="#222" stroke-width=".4">0</text>
<text x="99.82" y="665.70" font-size="4.8" font-weight="bold" fill="#111" text-anchor="start" stroke="#222" stroke-width=".4">10</text>
<text x="105.52" y="661.80" font-size="4.4" font-weight="bold" fill="#111" text-anchor="start" stroke="#222" stroke-width=".4">1</text>
<text x="118.04" y="665.70" font-size="4.8" font-weight="bold" fill="#111" text-anchor="start" stroke="#222" stroke-width=".4">10</text>
<text x="123.74" y="661.80" font-size="4.4" font-weight="bold" fill="#111" text-anchor="start" stroke="#222" stroke-width=".4">2</text>
<text x="136.67" y="665.70" font-size="4.8" font-weight="bold" fill="#111" text-anchor="start" stroke="#222" stroke-width=".4">10</text>
<text x="142.37" y="661.80" font-size="4.4" font-weight="bold" fill="#111" text-anchor="start" stroke="#222" stroke-width=".4">3</text>
<text x="149.88" y="665.70" font-size="4.8" font-weight="bold" fill="#111" text-anchor="start" stroke="#222" stroke-width=".4">10</text>
<text x="155.58" y="661.80" font-size="4.4" font-weight="bold" fill="#111" text-anchor="start" stroke="#222" stroke-width=".4">4</text>
<text transform="translate(153.20,592.30) scale(1,1.06)" font-size="9.2" font-weight="bold" fill="#111" stroke="#111" stroke-width=".2" text-anchor="end">10.1</text>
<text x="153.20" y="604.10" font-size="9.2" fill="#4a4a4a" text-anchor="end" stroke="#4a4a4a" stroke-width="0.32">22.4</text>
<rect x="179.80" y="580.80" width="76.60" height="77.40" fill="#fff" stroke="#7a7a7a" stroke-width="1.1"/>
<path d="M179.8 657.5 L182.0 654.5 L185.0 650.0 L188.0 644.5 L190.5 638.0 L192.8 630.0 L194.8 621.0 L196.6 613.0 L198.0 610.2 L199.6 612.0 L201.0 617.0 L202.4 626.0 L203.8 637.0 L205.2 647.0 L206.8 654.0 L209.0 657.5 L211.0 658.2 L211.0 658.2 L179.8 658.2 Z" fill="#e2e2e2" stroke="none"/>
<path d="M179.8 657.5 L182.0 654.5 L185.0 650.0 L188.0 644.5 L190.5 638.0 L192.8 630.0 L194.8 621.0 L196.6 613.0 L198.0 610.2 L199.6 612.0 L201.0 617.0 L202.4 626.0 L203.8 637.0 L205.2 647.0 L206.8 654.0 L209.0 657.5 L211.0 658.2" fill="none" stroke="#808080" stroke-width="1.1" stroke-linejoin="round"/>
<path d="M179.8 657.0 L182.0 654.0 L185.0 649.5 L188.0 644.0 L190.4 637.5 L192.6 629.5 L194.6 620.5 L196.4 612.5 L197.8 601.0 L199.2 595.0 L200.4 594.5 L201.4 591.2 L202.4 596.0 L203.6 607.0 L204.8 620.0 L206.0 633.0 L207.4 645.0 L208.8 653.0 L210.6 657.0 L213.0 658.2" fill="none" stroke="#7a7a7a" stroke-width="1.1" stroke-linejoin="round"/>
<path d="M180.8 657.6 L183.0 654.0 L185.6 649.5 L188.0 644.0 L190.2 637.0 L192.2 628.0 L194.0 617.0 L195.6 606.0 L197.2 598.5 L198.6 596.0 L200.0 598.0 L201.2 605.0 L202.4 616.0 L203.6 629.0 L204.8 641.0 L206.2 650.5 L208.0 656.0 L210.5 658.0 L215.0 658.2 L257.0 658.2" fill="none" stroke="#0a0a0a" stroke-width="2.15" stroke-dasharray="2.3 1.9" stroke-linejoin="round"/>
<line x1="179.80" y1="580.80" x2="179.80" y2="658.70" stroke="#555" stroke-width="1.0"/>
<line x1="180.30" y1="581.30" x2="180.30" y2="658.70" stroke="#0a0a0a" stroke-width="2.1" stroke-dasharray="3.6 1.5"/>
<text x="173.20" y="658.80" font-size="4.6" font-weight="bold" fill="#111" text-anchor="start" stroke="#222" stroke-width=".4">0</text>
<text x="182.03" y="667.30" font-size="4.8" font-weight="bold" fill="#111" text-anchor="start" stroke="#222" stroke-width=".4">10</text>
<text x="187.73" y="663.40" font-size="4.4" font-weight="bold" fill="#111" text-anchor="start" stroke="#222" stroke-width=".4">0</text>
<text x="197.09" y="667.30" font-size="4.8" font-weight="bold" fill="#111" text-anchor="start" stroke="#222" stroke-width=".4">10</text>
<text x="202.79" y="663.40" font-size="4.4" font-weight="bold" fill="#111" text-anchor="start" stroke="#222" stroke-width=".4">1</text>
<text x="214.01" y="667.30" font-size="4.8" font-weight="bold" fill="#111" text-anchor="start" stroke="#222" stroke-width=".4">10</text>
<text x="219.71" y="663.40" font-size="4.4" font-weight="bold" fill="#111" text-anchor="start" stroke="#222" stroke-width=".4">2</text>
<text x="231.30" y="667.30" font-size="4.8" font-weight="bold" fill="#111" text-anchor="start" stroke="#222" stroke-width=".4">10</text>
<text x="237.00" y="663.40" font-size="4.4" font-weight="bold" fill="#111" text-anchor="start" stroke="#222" stroke-width=".4">3</text>
<text x="243.57" y="667.30" font-size="4.8" font-weight="bold" fill="#111" text-anchor="start" stroke="#222" stroke-width=".4">10</text>
<text x="249.27" y="663.40" font-size="4.4" font-weight="bold" fill="#111" text-anchor="start" stroke="#222" stroke-width=".4">4</text>
<text transform="translate(247.60,592.70) scale(1,1.06)" font-size="9.2" font-weight="bold" fill="#111" stroke="#111" stroke-width=".2" text-anchor="end">9.2</text>
<text x="247.60" y="604.50" font-size="9.2" fill="#4a4a4a" text-anchor="end" stroke="#4a4a4a" stroke-width="0.32">15.5</text>
<rect x="330.40" y="480.80" width="81.80" height="80.20" fill="#fff" stroke="#7a7a7a" stroke-width="1.1"/>
<path d="M330.4 559.0 L333.0 556.0 L335.4 553.5 L337.4 552.5 L339.4 547.0 L341.4 541.0 L343.2 535.0 L344.8 528.0 L346.2 523.5 L347.4 522.2 L348.6 526.0 L349.8 531.5 L351.0 530.5 L352.2 532.0 L353.4 538.0 L354.8 546.0 L356.4 553.0 L358.2 558.0 L360.5 560.6 L360.5 561.0 L330.4 561.0 Z" fill="#e2e2e2" stroke="none"/>
<path d="M330.4 559.0 L333.0 556.0 L335.4 553.5 L337.4 552.5 L339.4 547.0 L341.4 541.0 L343.2 535.0 L344.8 528.0 L346.2 523.5 L347.4 522.2 L348.6 526.0 L349.8 531.5 L351.0 530.5 L352.2 532.0 L353.4 538.0 L354.8 546.0 L356.4 553.0 L358.2 558.0 L360.5 560.6" fill="none" stroke="#808080" stroke-width="1.1" stroke-linejoin="round"/>
<path d="M330.4 557.0 L332.4 553.0 L334.6 550.5 L336.8 549.5 L338.6 544.0 L340.6 538.0 L342.4 531.0 L344.0 524.0 L345.4 519.5 L346.6 521.5 L347.8 516.0 L348.8 508.0 L350.0 506.5 L351.2 507.5 L352.4 499.0 L353.6 496.5 L355.0 495.6 L356.4 497.0 L357.6 504.0 L358.8 516.0 L360.0 529.0 L361.4 541.0 L362.8 550.5 L364.4 556.5 L366.4 560.0 L369.0 561.0" fill="none" stroke="#7a7a7a" stroke-width="1.1" stroke-linejoin="round"/>
<path d="M331.0 561.0 L335.0 559.6 L339.0 557.5 L342.6 555.0 L345.6 552.0 L348.4 548.0 L350.8 543.0 L352.8 536.5 L354.6 529.0 L356.2 522.0 L357.6 518.4 L358.8 518.0 L360.0 521.0 L361.2 527.0 L362.4 535.0 L363.8 544.0 L365.2 551.5 L366.8 557.0 L369.0 560.2 L373.0 561.0 L411.5 561.0" fill="none" stroke="#0a0a0a" stroke-width="2.15" stroke-dasharray="2.3 1.9" stroke-linejoin="round"/>
<line x1="330.70" y1="480.80" x2="330.70" y2="561.50" stroke="#6a6a6a" stroke-width="1.5" stroke-dasharray="1.6 1.0"/>
<text x="323.80" y="560.80" font-size="4.6" font-weight="bold" fill="#111" text-anchor="start" stroke="#222" stroke-width=".4">0</text>
<text x="332.78" y="570.10" font-size="4.8" font-weight="bold" fill="#111" text-anchor="start" stroke="#222" stroke-width=".4">10</text>
<text x="338.48" y="566.20" font-size="4.4" font-weight="bold" fill="#111" text-anchor="start" stroke="#222" stroke-width=".4">0</text>
<text x="348.86" y="570.10" font-size="4.8" font-weight="bold" fill="#111" text-anchor="start" stroke="#222" stroke-width=".4">10</text>
<text x="354.56" y="566.20" font-size="4.4" font-weight="bold" fill="#111" text-anchor="start" stroke="#222" stroke-width=".4">1</text>
<text x="366.93" y="570.10" font-size="4.8" font-weight="bold" fill="#111" text-anchor="start" stroke="#222" stroke-width=".4">10</text>
<text x="372.63" y="566.20" font-size="4.4" font-weight="bold" fill="#111" text-anchor="start" stroke="#222" stroke-width=".4">2</text>
<text x="385.40" y="570.10" font-size="4.8" font-weight="bold" fill="#111" text-anchor="start" stroke="#222" stroke-width=".4">10</text>
<text x="391.10" y="566.20" font-size="4.4" font-weight="bold" fill="#111" text-anchor="start" stroke="#222" stroke-width=".4">3</text>
<text x="398.50" y="570.10" font-size="4.8" font-weight="bold" fill="#111" text-anchor="start" stroke="#222" stroke-width=".4">10</text>
<text x="404.20" y="566.20" font-size="4.4" font-weight="bold" fill="#111" text-anchor="start" stroke="#222" stroke-width=".4">4</text>
<text transform="translate(402.80,492.80) scale(1,1.06)" font-size="9.2" font-weight="bold" fill="#111" stroke="#111" stroke-width=".2" text-anchor="end">18.3</text>
<text x="402.80" y="505.50" font-size="9.2" fill="#4a4a4a" text-anchor="end" stroke="#4a4a4a" stroke-width="0.32">15.2</text>
<rect x="430.20" y="482.30" width="77.70" height="79.30" fill="#fff" stroke="#7a7a7a" stroke-width="1.1"/>
<path d="M430.2 560.5 L433.0 558.5 L436.0 556.5 L439.0 554.5 L442.0 552.0 L444.6 548.0 L446.6 543.0 L448.4 537.5 L450.0 533.5 L451.2 532.6 L452.4 536.0 L453.6 543.0 L455.0 550.0 L456.6 555.5 L458.6 559.5 L461.0 561.4 L461.0 561.6 L430.2 561.6 Z" fill="#e2e2e2" stroke="none"/>
<path d="M430.2 560.5 L433.0 558.5 L436.0 556.5 L439.0 554.5 L442.0 552.0 L444.6 548.0 L446.6 543.0 L448.4 537.5 L450.0 533.5 L451.2 532.6 L452.4 536.0 L453.6 543.0 L455.0 550.0 L456.6 555.5 L458.6 559.5 L461.0 561.4" fill="none" stroke="#808080" stroke-width="1.1" stroke-linejoin="round"/>
<path d="M430.2 559.0 L432.4 555.5 L434.4 551.0 L436.6 548.0 L438.6 546.5 L440.6 541.0 L442.4 534.0 L444.0 527.5 L445.4 524.0 L446.6 523.4 L447.8 528.0 L449.0 533.0 L450.6 532.0 L452.2 526.0 L453.8 521.0 L455.2 519.0 L456.4 512.5 L457.8 510.0 L459.2 508.6 L460.2 512.0 L461.2 522.0 L462.4 536.0 L463.6 548.0 L465.0 554.5 L467.0 556.5 L469.0 557.5 L471.0 560.5 L474.0 561.6" fill="none" stroke="#7a7a7a" stroke-width="1.1" stroke-linejoin="round"/>
<path d="M431.0 561.0 L433.4 558.0 L436.0 555.5 L438.6 553.5 L441.2 550.0 L443.6 544.0 L445.8 536.5 L447.8 528.0 L449.8 520.0 L451.8 513.5 L453.6 507.5 L455.2 500.4 L456.4 505.0 L457.8 509.5 L459.4 512.0 L460.6 520.0 L461.6 532.0 L462.6 545.0 L463.8 554.0 L465.4 558.5 L468.0 560.5 L473.0 561.6 L508.0 561.6" fill="none" stroke="#0a0a0a" stroke-width="2.15" stroke-dasharray="2.3 1.9" stroke-linejoin="round"/>
<line x1="430.50" y1="482.30" x2="430.50" y2="562.10" stroke="#6a6a6a" stroke-width="1.5" stroke-dasharray="1.6 1.0"/>
<text x="423.60" y="561.40" font-size="4.6" font-weight="bold" fill="#111" text-anchor="start" stroke="#222" stroke-width=".4">0</text>
<text x="432.46" y="570.70" font-size="4.8" font-weight="bold" fill="#111" text-anchor="start" stroke="#222" stroke-width=".4">10</text>
<text x="438.16" y="566.80" font-size="4.4" font-weight="bold" fill="#111" text-anchor="start" stroke="#222" stroke-width=".4">0</text>
<text x="447.74" y="570.70" font-size="4.8" font-weight="bold" fill="#111" text-anchor="start" stroke="#222" stroke-width=".4">10</text>
<text x="453.44" y="566.80" font-size="4.4" font-weight="bold" fill="#111" text-anchor="start" stroke="#222" stroke-width=".4">1</text>
<text x="464.90" y="570.70" font-size="4.8" font-weight="bold" fill="#111" text-anchor="start" stroke="#222" stroke-width=".4">10</text>
<text x="470.60" y="566.80" font-size="4.4" font-weight="bold" fill="#111" text-anchor="start" stroke="#222" stroke-width=".4">2</text>
<text x="482.44" y="570.70" font-size="4.8" font-weight="bold" fill="#111" text-anchor="start" stroke="#222" stroke-width=".4">10</text>
<text x="488.14" y="566.80" font-size="4.4" font-weight="bold" fill="#111" text-anchor="start" stroke="#222" stroke-width=".4">3</text>
<text x="494.89" y="570.70" font-size="4.8" font-weight="bold" fill="#111" text-anchor="start" stroke="#222" stroke-width=".4">10</text>
<text x="500.59" y="566.80" font-size="4.4" font-weight="bold" fill="#111" text-anchor="start" stroke="#222" stroke-width=".4">4</text>
<text transform="translate(496.20,492.30) scale(1,1.06)" font-size="9.2" font-weight="bold" fill="#111" stroke="#111" stroke-width=".2" text-anchor="end">19.0</text>
<text x="496.20" y="505.00" font-size="9.2" fill="#4a4a4a" text-anchor="end" stroke="#4a4a4a" stroke-width="0.32">19.4</text>
<rect x="330.80" y="579.80" width="82.70" height="75.60" fill="#fff" stroke="#7a7a7a" stroke-width="1.1"/>
<path d="M330.8 654.5 L334.0 652.5 L337.4 649.5 L340.4 645.0 L343.0 639.0 L345.2 632.0 L347.2 624.0 L349.0 616.0 L350.4 611.2 L351.6 610.2 L352.8 614.0 L354.0 621.0 L355.2 622.5 L356.4 628.0 L357.6 636.0 L358.8 644.0 L360.2 650.0 L362.0 654.0 L364.0 655.4 L364.0 655.4 L330.8 655.4 Z" fill="#e2e2e2" stroke="none"/>
<path d="M330.8 654.5 L334.0 652.5 L337.4 649.5 L340.4 645.0 L343.0 639.0 L345.2 632.0 L347.2 624.0 L349.0 616.0 L350.4 611.2 L351.6 610.2 L352.8 614.0 L354.0 621.0 L355.2 622.5 L356.4 628.0 L357.6 636.0 L358.8 644.0 L360.2 650.0 L362.0 654.0 L364.0 655.4" fill="none" stroke="#808080" stroke-width="1.1" stroke-linejoin="round"/>
<path d="M330.8 653.5 L333.4 651.5 L336.4 648.5 L339.2 644.0 L341.6 638.0 L343.8 631.0 L345.8 623.0 L347.6 615.0 L349.2 607.0 L350.6 600.0 L351.8 597.0 L353.0 595.6 L354.0 599.0 L355.0 598.2 L356.0 604.0 L357.2 611.0 L358.4 614.5 L359.8 621.0 L361.4 628.0 L363.0 635.5 L364.8 642.0 L366.6 647.5 L368.6 651.5 L370.8 654.2 L373.0 655.4" fill="none" stroke="#7a7a7a" stroke-width="1.1" stroke-linejoin="round"/>
<path d="M331.4 655.4 L335.0 654.0 L339.0 652.0 L342.4 649.5 L345.4 646.0 L348.0 641.5 L350.4 636.5 L352.6 632.0 L354.8 629.0 L357.0 627.6 L359.2 627.6 L361.4 629.0 L363.6 631.0 L365.8 633.5 L368.0 635.0 L370.2 637.5 L372.2 641.0 L374.2 645.0 L376.2 649.0 L378.4 652.0 L381.0 654.4 L385.0 655.4 L412.5 655.4" fill="none" stroke="#0a0a0a" stroke-width="2.15" stroke-dasharray="2.3 1.9" stroke-linejoin="round"/>
<line x1="330.80" y1="579.80" x2="330.80" y2="655.90" stroke="#444" stroke-width="1.0"/>
<text x="324.20" y="656.00" font-size="4.6" font-weight="bold" fill="#111" text-anchor="start" stroke="#222" stroke-width=".4">0</text>
<text x="333.21" y="664.50" font-size="4.8" font-weight="bold" fill="#111" text-anchor="start" stroke="#222" stroke-width=".4">10</text>
<text x="338.91" y="660.60" font-size="4.4" font-weight="bold" fill="#111" text-anchor="start" stroke="#222" stroke-width=".4">0</text>
<text x="349.47" y="664.50" font-size="4.8" font-weight="bold" fill="#111" text-anchor="start" stroke="#222" stroke-width=".4">10</text>
<text x="355.17" y="660.60" font-size="4.4" font-weight="bold" fill="#111" text-anchor="start" stroke="#222" stroke-width=".4">1</text>
<text x="367.73" y="664.50" font-size="4.8" font-weight="bold" fill="#111" text-anchor="start" stroke="#222" stroke-width=".4">10</text>
<text x="373.43" y="660.60" font-size="4.4" font-weight="bold" fill="#111" text-anchor="start" stroke="#222" stroke-width=".4">2</text>
<text x="386.40" y="664.50" font-size="4.8" font-weight="bold" fill="#111" text-anchor="start" stroke="#222" stroke-width=".4">10</text>
<text x="392.10" y="660.60" font-size="4.4" font-weight="bold" fill="#111" text-anchor="start" stroke="#222" stroke-width=".4">3</text>
<text x="399.65" y="664.50" font-size="4.8" font-weight="bold" fill="#111" text-anchor="start" stroke="#222" stroke-width=".4">10</text>
<text x="405.35" y="660.60" font-size="4.4" font-weight="bold" fill="#111" text-anchor="start" stroke="#222" stroke-width=".4">4</text>
<text transform="translate(403.80,592.30) scale(1,1.06)" font-size="9.2" font-weight="bold" fill="#111" stroke="#111" stroke-width=".2" text-anchor="end">24.1</text>
<text x="403.80" y="603.90" font-size="9.2" fill="#4a4a4a" text-anchor="end" stroke="#4a4a4a" stroke-width="0.32">15.3</text>
<path d="M331.6 655 L332.0 644 L332.8 651 L333.4 654.5" fill="none" stroke="#8a8a8a" stroke-width=".9"/>
<rect x="431.20" y="581.40" width="77.30" height="76.40" fill="#fff" stroke="#7a7a7a" stroke-width="1.1"/>
<path d="M431.2 656.5 L434.0 655.0 L437.0 652.5 L440.0 648.0 L442.6 641.5 L444.8 633.5 L446.8 625.0 L448.6 618.0 L450.2 614.0 L451.6 613.2 L453.0 616.0 L454.4 623.0 L455.8 632.0 L457.2 641.0 L458.6 649.0 L460.2 654.5 L462.0 657.4 L462.0 657.8 L431.2 657.8 Z" fill="#e2e2e2" stroke="none"/>
<path d="M431.2 656.5 L434.0 655.0 L437.0 652.5 L440.0 648.0 L442.6 641.5 L444.8 633.5 L446.8 625.0 L448.6 618.0 L450.2 614.0 L451.6 613.2 L453.0 616.0 L454.4 623.0 L455.8 632.0 L457.2 641.0 L458.6 649.0 L460.2 654.5 L462.0 657.4" fill="none" stroke="#808080" stroke-width="1.1" stroke-linejoin="round"/>
<path d="M431.2 655.8 L434.0 654.0 L437.0 651.0 L440.0 646.5 L442.6 640.0 L444.8 632.0 L446.8 624.0 L448.6 617.5 L450.2 614.0 L451.6 614.5 L453.0 612.5 L454.2 614.5 L455.2 609.2 L456.2 613.0 L457.2 621.0 L458.4 630.0 L459.8 637.0 L461.4 643.0 L463.2 647.5 L465.2 651.0 L467.4 654.0 L470.0 656.5 L473.0 657.8" fill="none" stroke="#7a7a7a" stroke-width="1.1" stroke-linejoin="round"/>
<path d="M432.2 655.0 L434.0 653.5 L436.6 651.0 L439.2 647.0 L441.6 641.5 L443.8 634.0 L445.8 625.0 L447.6 615.0 L449.2 607.6 L450.6 605.2 L452.0 608.0 L453.4 613.0 L454.8 620.0 L456.2 627.5 L457.8 634.0 L459.6 639.5 L461.6 643.5 L463.8 646.5 L466.0 649.5 L468.4 653.0 L471.0 656.0 L474.5 657.6 L508.0 657.8" fill="none" stroke="#0a0a0a" stroke-width="2.15" stroke-dasharray="2.3 1.9" stroke-linejoin="round"/>
<line x1="431.20" y1="581.40" x2="431.20" y2="658.30" stroke="#555" stroke-width="1.0"/>
<line x1="431.70" y1="581.90" x2="431.70" y2="658.30" stroke="#0a0a0a" stroke-width="2.1" stroke-dasharray="3.6 1.5"/>
<text x="424.60" y="658.40" font-size="4.6" font-weight="bold" fill="#111" text-anchor="start" stroke="#222" stroke-width=".4">0</text>
<text x="433.45" y="666.90" font-size="4.8" font-weight="bold" fill="#111" text-anchor="start" stroke="#222" stroke-width=".4">10</text>
<text x="439.15" y="663.00" font-size="4.4" font-weight="bold" fill="#111" text-anchor="start" stroke="#222" stroke-width=".4">0</text>
<text x="448.65" y="666.90" font-size="4.8" font-weight="bold" fill="#111" text-anchor="start" stroke="#222" stroke-width=".4">10</text>
<text x="454.35" y="663.00" font-size="4.4" font-weight="bold" fill="#111" text-anchor="start" stroke="#222" stroke-width=".4">1</text>
<text x="465.72" y="666.90" font-size="4.8" font-weight="bold" fill="#111" text-anchor="start" stroke="#222" stroke-width=".4">10</text>
<text x="471.42" y="663.00" font-size="4.4" font-weight="bold" fill="#111" text-anchor="start" stroke="#222" stroke-width=".4">2</text>
<text x="483.17" y="666.90" font-size="4.8" font-weight="bold" fill="#111" text-anchor="start" stroke="#222" stroke-width=".4">10</text>
<text x="488.87" y="663.00" font-size="4.4" font-weight="bold" fill="#111" text-anchor="start" stroke="#222" stroke-width=".4">3</text>
<text x="495.55" y="666.90" font-size="4.8" font-weight="bold" fill="#111" text-anchor="start" stroke="#222" stroke-width=".4">10</text>
<text x="501.25" y="663.00" font-size="4.4" font-weight="bold" fill="#111" text-anchor="start" stroke="#222" stroke-width=".4">4</text>
<text transform="translate(498.40,592.30) scale(1,1.06)" font-size="9.2" font-weight="bold" fill="#111" stroke="#111" stroke-width=".2" text-anchor="end">23.3</text>
<text x="498.40" y="604.10" font-size="9.2" fill="#4a4a4a" text-anchor="end" stroke="#4a4a4a" stroke-width="0.32">22.8</text>
</g>
</svg></body></html>
